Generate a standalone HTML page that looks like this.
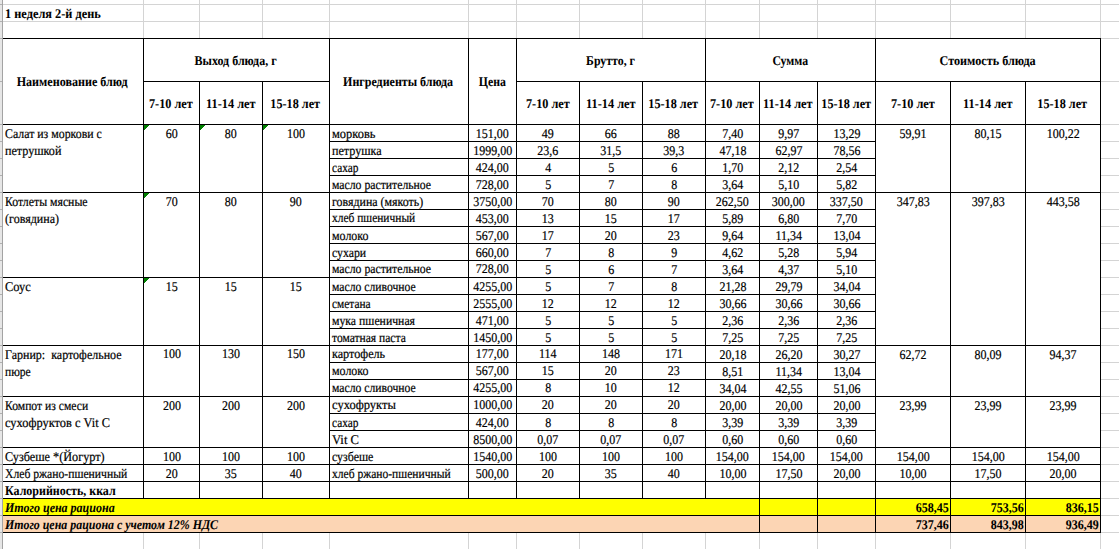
<!DOCTYPE html>
<html><head><meta charset="utf-8"><title>sheet</title><style>
html,body{margin:0;padding:0;background:#fff}
body{width:1119px;height:549px;position:relative;overflow:hidden;font-family:"Liberation Serif",serif;font-size:13.33px;line-height:17px;text-rendering:geometricPrecision;-webkit-text-stroke:0.2px #000;color:#000}
.r{position:absolute}
.t{position:absolute;box-sizing:border-box;white-space:nowrap;overflow:hidden}
.s{display:inline-block;white-space:pre}
.ol{transform-origin:0 50%}
.or{transform-origin:100% 50%}
.oc{transform-origin:50% 50%}
.l{text-align:left;padding-left:1.6px}
.c{text-align:center}
.rt{text-align:right;padding-right:1.7px}
.b,.bi,.h{-webkit-text-stroke:0.06px #000}
.b{font-weight:bold}
.bi{font-weight:bold;font-style:italic}
.h{font-weight:bold;text-align:center;display:flex;align-items:center;justify-content:center;padding-right:1px}
</style></head><body>
<div class="r" style="left:143px;top:0px;width:1px;height:549px;background:#d4d4d4"></div>
<div class="r" style="left:199px;top:0px;width:1px;height:549px;background:#d4d4d4"></div>
<div class="r" style="left:262px;top:0px;width:1px;height:549px;background:#d4d4d4"></div>
<div class="r" style="left:329px;top:0px;width:1px;height:549px;background:#d4d4d4"></div>
<div class="r" style="left:468px;top:0px;width:1px;height:549px;background:#d4d4d4"></div>
<div class="r" style="left:516px;top:0px;width:1px;height:549px;background:#d4d4d4"></div>
<div class="r" style="left:579px;top:0px;width:1px;height:549px;background:#d4d4d4"></div>
<div class="r" style="left:642px;top:0px;width:1px;height:549px;background:#d4d4d4"></div>
<div class="r" style="left:705px;top:0px;width:1px;height:549px;background:#d4d4d4"></div>
<div class="r" style="left:759px;top:0px;width:1px;height:549px;background:#d4d4d4"></div>
<div class="r" style="left:817px;top:0px;width:1px;height:549px;background:#d4d4d4"></div>
<div class="r" style="left:875px;top:0px;width:1px;height:549px;background:#d4d4d4"></div>
<div class="r" style="left:950px;top:0px;width:1px;height:549px;background:#d4d4d4"></div>
<div class="r" style="left:1025px;top:0px;width:1px;height:549px;background:#d4d4d4"></div>
<div class="r" style="left:1100px;top:0px;width:1px;height:549px;background:#d4d4d4"></div>
<div class="r" style="left:0px;top:4px;width:1119px;height:1px;background:#d4d4d4"></div>
<div class="r" style="left:0px;top:21px;width:1119px;height:1px;background:#d4d4d4"></div>
<div class="r" style="left:0px;top:38px;width:1119px;height:1px;background:#d4d4d4"></div>
<div class="r" style="left:0px;top:81px;width:1119px;height:1px;background:#d4d4d4"></div>
<div class="r" style="left:0px;top:124px;width:1119px;height:1px;background:#d4d4d4"></div>
<div class="r" style="left:0px;top:141px;width:1119px;height:1px;background:#d4d4d4"></div>
<div class="r" style="left:0px;top:158px;width:1119px;height:1px;background:#d4d4d4"></div>
<div class="r" style="left:0px;top:175px;width:1119px;height:1px;background:#d4d4d4"></div>
<div class="r" style="left:0px;top:192px;width:1119px;height:1px;background:#d4d4d4"></div>
<div class="r" style="left:0px;top:209px;width:1119px;height:1px;background:#d4d4d4"></div>
<div class="r" style="left:0px;top:226px;width:1119px;height:1px;background:#d4d4d4"></div>
<div class="r" style="left:0px;top:243px;width:1119px;height:1px;background:#d4d4d4"></div>
<div class="r" style="left:0px;top:260px;width:1119px;height:1px;background:#d4d4d4"></div>
<div class="r" style="left:0px;top:277px;width:1119px;height:1px;background:#d4d4d4"></div>
<div class="r" style="left:0px;top:294px;width:1119px;height:1px;background:#d4d4d4"></div>
<div class="r" style="left:0px;top:311px;width:1119px;height:1px;background:#d4d4d4"></div>
<div class="r" style="left:0px;top:328px;width:1119px;height:1px;background:#d4d4d4"></div>
<div class="r" style="left:0px;top:345px;width:1119px;height:1px;background:#d4d4d4"></div>
<div class="r" style="left:0px;top:362px;width:1119px;height:1px;background:#d4d4d4"></div>
<div class="r" style="left:0px;top:379px;width:1119px;height:1px;background:#d4d4d4"></div>
<div class="r" style="left:0px;top:396px;width:1119px;height:1px;background:#d4d4d4"></div>
<div class="r" style="left:0px;top:413px;width:1119px;height:1px;background:#d4d4d4"></div>
<div class="r" style="left:0px;top:430px;width:1119px;height:1px;background:#d4d4d4"></div>
<div class="r" style="left:0px;top:447px;width:1119px;height:1px;background:#d4d4d4"></div>
<div class="r" style="left:0px;top:464px;width:1119px;height:1px;background:#d4d4d4"></div>
<div class="r" style="left:0px;top:481px;width:1119px;height:1px;background:#d4d4d4"></div>
<div class="r" style="left:0px;top:498px;width:1119px;height:1px;background:#d4d4d4"></div>
<div class="r" style="left:0px;top:515px;width:1119px;height:1px;background:#d4d4d4"></div>
<div class="r" style="left:0px;top:532px;width:1119px;height:1px;background:#d4d4d4"></div>
<div class="r" style="left:0px;top:0px;width:2px;height:549px;background:#e6e6e6"></div>
<div class="r" style="left:0px;top:4px;width:2px;height:1px;background:#b0b0b0"></div>
<div class="r" style="left:0px;top:21px;width:2px;height:1px;background:#b0b0b0"></div>
<div class="r" style="left:0px;top:38px;width:2px;height:1px;background:#b0b0b0"></div>
<div class="r" style="left:0px;top:81px;width:2px;height:1px;background:#b0b0b0"></div>
<div class="r" style="left:0px;top:124px;width:2px;height:1px;background:#b0b0b0"></div>
<div class="r" style="left:0px;top:141px;width:2px;height:1px;background:#b0b0b0"></div>
<div class="r" style="left:0px;top:158px;width:2px;height:1px;background:#b0b0b0"></div>
<div class="r" style="left:0px;top:175px;width:2px;height:1px;background:#b0b0b0"></div>
<div class="r" style="left:0px;top:192px;width:2px;height:1px;background:#b0b0b0"></div>
<div class="r" style="left:0px;top:209px;width:2px;height:1px;background:#b0b0b0"></div>
<div class="r" style="left:0px;top:226px;width:2px;height:1px;background:#b0b0b0"></div>
<div class="r" style="left:0px;top:243px;width:2px;height:1px;background:#b0b0b0"></div>
<div class="r" style="left:0px;top:260px;width:2px;height:1px;background:#b0b0b0"></div>
<div class="r" style="left:0px;top:277px;width:2px;height:1px;background:#b0b0b0"></div>
<div class="r" style="left:0px;top:294px;width:2px;height:1px;background:#b0b0b0"></div>
<div class="r" style="left:0px;top:311px;width:2px;height:1px;background:#b0b0b0"></div>
<div class="r" style="left:0px;top:328px;width:2px;height:1px;background:#b0b0b0"></div>
<div class="r" style="left:0px;top:345px;width:2px;height:1px;background:#b0b0b0"></div>
<div class="r" style="left:0px;top:362px;width:2px;height:1px;background:#b0b0b0"></div>
<div class="r" style="left:0px;top:379px;width:2px;height:1px;background:#b0b0b0"></div>
<div class="r" style="left:0px;top:396px;width:2px;height:1px;background:#b0b0b0"></div>
<div class="r" style="left:0px;top:413px;width:2px;height:1px;background:#b0b0b0"></div>
<div class="r" style="left:0px;top:430px;width:2px;height:1px;background:#b0b0b0"></div>
<div class="r" style="left:0px;top:447px;width:2px;height:1px;background:#b0b0b0"></div>
<div class="r" style="left:0px;top:464px;width:2px;height:1px;background:#b0b0b0"></div>
<div class="r" style="left:0px;top:481px;width:2px;height:1px;background:#b0b0b0"></div>
<div class="r" style="left:0px;top:498px;width:2px;height:1px;background:#b0b0b0"></div>
<div class="r" style="left:0px;top:515px;width:2px;height:1px;background:#b0b0b0"></div>
<div class="r" style="left:0px;top:532px;width:2px;height:1px;background:#b0b0b0"></div>
<div class="r" style="left:2px;top:0px;width:1px;height:549px;background:#a3a3a3"></div>
<div class="r" style="left:3px;top:39px;width:140px;height:85px;background:#fff"></div>
<div class="r" style="left:144px;top:39px;width:185px;height:42px;background:#fff"></div>
<div class="r" style="left:144px;top:82px;width:55px;height:42px;background:#fff"></div>
<div class="r" style="left:200px;top:82px;width:62px;height:42px;background:#fff"></div>
<div class="r" style="left:263px;top:82px;width:66px;height:42px;background:#fff"></div>
<div class="r" style="left:330px;top:39px;width:138px;height:85px;background:#fff"></div>
<div class="r" style="left:469px;top:39px;width:47px;height:85px;background:#fff"></div>
<div class="r" style="left:517px;top:39px;width:188px;height:42px;background:#fff"></div>
<div class="r" style="left:517px;top:82px;width:62px;height:42px;background:#fff"></div>
<div class="r" style="left:580px;top:82px;width:62px;height:42px;background:#fff"></div>
<div class="r" style="left:643px;top:82px;width:62px;height:42px;background:#fff"></div>
<div class="r" style="left:706px;top:39px;width:169px;height:42px;background:#fff"></div>
<div class="r" style="left:706px;top:82px;width:53px;height:42px;background:#fff"></div>
<div class="r" style="left:760px;top:82px;width:57px;height:42px;background:#fff"></div>
<div class="r" style="left:818px;top:82px;width:57px;height:42px;background:#fff"></div>
<div class="r" style="left:876px;top:39px;width:224px;height:42px;background:#fff"></div>
<div class="r" style="left:876px;top:82px;width:74px;height:42px;background:#fff"></div>
<div class="r" style="left:951px;top:82px;width:74px;height:42px;background:#fff"></div>
<div class="r" style="left:1026px;top:82px;width:74px;height:42px;background:#fff"></div>
<div class="r" style="left:3px;top:125px;width:140px;height:67px;background:#fff"></div>
<div class="r" style="left:144px;top:125px;width:55px;height:67px;background:#fff"></div>
<div class="r" style="left:200px;top:125px;width:62px;height:67px;background:#fff"></div>
<div class="r" style="left:263px;top:125px;width:66px;height:67px;background:#fff"></div>
<div class="r" style="left:330px;top:125px;width:138px;height:16px;background:#fff"></div>
<div class="r" style="left:469px;top:125px;width:47px;height:16px;background:#fff"></div>
<div class="r" style="left:517px;top:125px;width:62px;height:16px;background:#fff"></div>
<div class="r" style="left:580px;top:125px;width:62px;height:16px;background:#fff"></div>
<div class="r" style="left:643px;top:125px;width:62px;height:16px;background:#fff"></div>
<div class="r" style="left:706px;top:125px;width:53px;height:16px;background:#fff"></div>
<div class="r" style="left:760px;top:125px;width:57px;height:16px;background:#fff"></div>
<div class="r" style="left:818px;top:125px;width:57px;height:16px;background:#fff"></div>
<div class="r" style="left:330px;top:142px;width:138px;height:16px;background:#fff"></div>
<div class="r" style="left:469px;top:142px;width:47px;height:16px;background:#fff"></div>
<div class="r" style="left:517px;top:142px;width:62px;height:16px;background:#fff"></div>
<div class="r" style="left:580px;top:142px;width:62px;height:16px;background:#fff"></div>
<div class="r" style="left:643px;top:142px;width:62px;height:16px;background:#fff"></div>
<div class="r" style="left:706px;top:142px;width:53px;height:16px;background:#fff"></div>
<div class="r" style="left:760px;top:142px;width:57px;height:16px;background:#fff"></div>
<div class="r" style="left:818px;top:142px;width:57px;height:16px;background:#fff"></div>
<div class="r" style="left:330px;top:159px;width:138px;height:16px;background:#fff"></div>
<div class="r" style="left:469px;top:159px;width:47px;height:16px;background:#fff"></div>
<div class="r" style="left:517px;top:159px;width:62px;height:16px;background:#fff"></div>
<div class="r" style="left:580px;top:159px;width:62px;height:16px;background:#fff"></div>
<div class="r" style="left:643px;top:159px;width:62px;height:16px;background:#fff"></div>
<div class="r" style="left:706px;top:159px;width:53px;height:16px;background:#fff"></div>
<div class="r" style="left:760px;top:159px;width:57px;height:16px;background:#fff"></div>
<div class="r" style="left:818px;top:159px;width:57px;height:16px;background:#fff"></div>
<div class="r" style="left:330px;top:176px;width:138px;height:16px;background:#fff"></div>
<div class="r" style="left:469px;top:176px;width:47px;height:16px;background:#fff"></div>
<div class="r" style="left:517px;top:176px;width:62px;height:16px;background:#fff"></div>
<div class="r" style="left:580px;top:176px;width:62px;height:16px;background:#fff"></div>
<div class="r" style="left:643px;top:176px;width:62px;height:16px;background:#fff"></div>
<div class="r" style="left:706px;top:176px;width:53px;height:16px;background:#fff"></div>
<div class="r" style="left:760px;top:176px;width:57px;height:16px;background:#fff"></div>
<div class="r" style="left:818px;top:176px;width:57px;height:16px;background:#fff"></div>
<div class="r" style="left:3px;top:193px;width:140px;height:84px;background:#fff"></div>
<div class="r" style="left:144px;top:193px;width:55px;height:84px;background:#fff"></div>
<div class="r" style="left:200px;top:193px;width:62px;height:84px;background:#fff"></div>
<div class="r" style="left:263px;top:193px;width:66px;height:84px;background:#fff"></div>
<div class="r" style="left:330px;top:193px;width:138px;height:16px;background:#fff"></div>
<div class="r" style="left:469px;top:193px;width:47px;height:16px;background:#fff"></div>
<div class="r" style="left:517px;top:193px;width:62px;height:16px;background:#fff"></div>
<div class="r" style="left:580px;top:193px;width:62px;height:16px;background:#fff"></div>
<div class="r" style="left:643px;top:193px;width:62px;height:16px;background:#fff"></div>
<div class="r" style="left:706px;top:193px;width:53px;height:16px;background:#fff"></div>
<div class="r" style="left:760px;top:193px;width:57px;height:16px;background:#fff"></div>
<div class="r" style="left:818px;top:193px;width:57px;height:16px;background:#fff"></div>
<div class="r" style="left:330px;top:210px;width:138px;height:16px;background:#fff"></div>
<div class="r" style="left:469px;top:210px;width:47px;height:16px;background:#fff"></div>
<div class="r" style="left:517px;top:210px;width:62px;height:16px;background:#fff"></div>
<div class="r" style="left:580px;top:210px;width:62px;height:16px;background:#fff"></div>
<div class="r" style="left:643px;top:210px;width:62px;height:16px;background:#fff"></div>
<div class="r" style="left:706px;top:210px;width:53px;height:16px;background:#fff"></div>
<div class="r" style="left:760px;top:210px;width:57px;height:16px;background:#fff"></div>
<div class="r" style="left:818px;top:210px;width:57px;height:16px;background:#fff"></div>
<div class="r" style="left:330px;top:227px;width:138px;height:16px;background:#fff"></div>
<div class="r" style="left:469px;top:227px;width:47px;height:16px;background:#fff"></div>
<div class="r" style="left:517px;top:227px;width:62px;height:16px;background:#fff"></div>
<div class="r" style="left:580px;top:227px;width:62px;height:16px;background:#fff"></div>
<div class="r" style="left:643px;top:227px;width:62px;height:16px;background:#fff"></div>
<div class="r" style="left:706px;top:227px;width:53px;height:16px;background:#fff"></div>
<div class="r" style="left:760px;top:227px;width:57px;height:16px;background:#fff"></div>
<div class="r" style="left:818px;top:227px;width:57px;height:16px;background:#fff"></div>
<div class="r" style="left:330px;top:244px;width:138px;height:16px;background:#fff"></div>
<div class="r" style="left:469px;top:244px;width:47px;height:16px;background:#fff"></div>
<div class="r" style="left:517px;top:244px;width:62px;height:16px;background:#fff"></div>
<div class="r" style="left:580px;top:244px;width:62px;height:16px;background:#fff"></div>
<div class="r" style="left:643px;top:244px;width:62px;height:16px;background:#fff"></div>
<div class="r" style="left:706px;top:244px;width:53px;height:16px;background:#fff"></div>
<div class="r" style="left:760px;top:244px;width:57px;height:16px;background:#fff"></div>
<div class="r" style="left:818px;top:244px;width:57px;height:16px;background:#fff"></div>
<div class="r" style="left:330px;top:261px;width:138px;height:16px;background:#fff"></div>
<div class="r" style="left:469px;top:261px;width:47px;height:16px;background:#fff"></div>
<div class="r" style="left:517px;top:261px;width:62px;height:16px;background:#fff"></div>
<div class="r" style="left:580px;top:261px;width:62px;height:16px;background:#fff"></div>
<div class="r" style="left:643px;top:261px;width:62px;height:16px;background:#fff"></div>
<div class="r" style="left:706px;top:261px;width:53px;height:16px;background:#fff"></div>
<div class="r" style="left:760px;top:261px;width:57px;height:16px;background:#fff"></div>
<div class="r" style="left:818px;top:261px;width:57px;height:16px;background:#fff"></div>
<div class="r" style="left:3px;top:278px;width:140px;height:67px;background:#fff"></div>
<div class="r" style="left:144px;top:278px;width:55px;height:67px;background:#fff"></div>
<div class="r" style="left:200px;top:278px;width:62px;height:67px;background:#fff"></div>
<div class="r" style="left:263px;top:278px;width:66px;height:67px;background:#fff"></div>
<div class="r" style="left:330px;top:278px;width:138px;height:16px;background:#fff"></div>
<div class="r" style="left:469px;top:278px;width:47px;height:16px;background:#fff"></div>
<div class="r" style="left:517px;top:278px;width:62px;height:16px;background:#fff"></div>
<div class="r" style="left:580px;top:278px;width:62px;height:16px;background:#fff"></div>
<div class="r" style="left:643px;top:278px;width:62px;height:16px;background:#fff"></div>
<div class="r" style="left:706px;top:278px;width:53px;height:16px;background:#fff"></div>
<div class="r" style="left:760px;top:278px;width:57px;height:16px;background:#fff"></div>
<div class="r" style="left:818px;top:278px;width:57px;height:16px;background:#fff"></div>
<div class="r" style="left:330px;top:295px;width:138px;height:16px;background:#fff"></div>
<div class="r" style="left:469px;top:295px;width:47px;height:16px;background:#fff"></div>
<div class="r" style="left:517px;top:295px;width:62px;height:16px;background:#fff"></div>
<div class="r" style="left:580px;top:295px;width:62px;height:16px;background:#fff"></div>
<div class="r" style="left:643px;top:295px;width:62px;height:16px;background:#fff"></div>
<div class="r" style="left:706px;top:295px;width:53px;height:16px;background:#fff"></div>
<div class="r" style="left:760px;top:295px;width:57px;height:16px;background:#fff"></div>
<div class="r" style="left:818px;top:295px;width:57px;height:16px;background:#fff"></div>
<div class="r" style="left:330px;top:312px;width:138px;height:16px;background:#fff"></div>
<div class="r" style="left:469px;top:312px;width:47px;height:16px;background:#fff"></div>
<div class="r" style="left:517px;top:312px;width:62px;height:16px;background:#fff"></div>
<div class="r" style="left:580px;top:312px;width:62px;height:16px;background:#fff"></div>
<div class="r" style="left:643px;top:312px;width:62px;height:16px;background:#fff"></div>
<div class="r" style="left:706px;top:312px;width:53px;height:16px;background:#fff"></div>
<div class="r" style="left:760px;top:312px;width:57px;height:16px;background:#fff"></div>
<div class="r" style="left:818px;top:312px;width:57px;height:16px;background:#fff"></div>
<div class="r" style="left:330px;top:329px;width:138px;height:16px;background:#fff"></div>
<div class="r" style="left:469px;top:329px;width:47px;height:16px;background:#fff"></div>
<div class="r" style="left:517px;top:329px;width:62px;height:16px;background:#fff"></div>
<div class="r" style="left:580px;top:329px;width:62px;height:16px;background:#fff"></div>
<div class="r" style="left:643px;top:329px;width:62px;height:16px;background:#fff"></div>
<div class="r" style="left:706px;top:329px;width:53px;height:16px;background:#fff"></div>
<div class="r" style="left:760px;top:329px;width:57px;height:16px;background:#fff"></div>
<div class="r" style="left:818px;top:329px;width:57px;height:16px;background:#fff"></div>
<div class="r" style="left:3px;top:346px;width:140px;height:50px;background:#fff"></div>
<div class="r" style="left:144px;top:346px;width:55px;height:50px;background:#fff"></div>
<div class="r" style="left:200px;top:346px;width:62px;height:50px;background:#fff"></div>
<div class="r" style="left:263px;top:346px;width:66px;height:50px;background:#fff"></div>
<div class="r" style="left:330px;top:346px;width:138px;height:16px;background:#fff"></div>
<div class="r" style="left:469px;top:346px;width:47px;height:16px;background:#fff"></div>
<div class="r" style="left:517px;top:346px;width:62px;height:16px;background:#fff"></div>
<div class="r" style="left:580px;top:346px;width:62px;height:16px;background:#fff"></div>
<div class="r" style="left:643px;top:346px;width:62px;height:16px;background:#fff"></div>
<div class="r" style="left:706px;top:346px;width:53px;height:16px;background:#fff"></div>
<div class="r" style="left:760px;top:346px;width:57px;height:16px;background:#fff"></div>
<div class="r" style="left:818px;top:346px;width:57px;height:16px;background:#fff"></div>
<div class="r" style="left:330px;top:363px;width:138px;height:16px;background:#fff"></div>
<div class="r" style="left:469px;top:363px;width:47px;height:16px;background:#fff"></div>
<div class="r" style="left:517px;top:363px;width:62px;height:16px;background:#fff"></div>
<div class="r" style="left:580px;top:363px;width:62px;height:16px;background:#fff"></div>
<div class="r" style="left:643px;top:363px;width:62px;height:16px;background:#fff"></div>
<div class="r" style="left:706px;top:363px;width:53px;height:16px;background:#fff"></div>
<div class="r" style="left:760px;top:363px;width:57px;height:16px;background:#fff"></div>
<div class="r" style="left:818px;top:363px;width:57px;height:16px;background:#fff"></div>
<div class="r" style="left:330px;top:380px;width:138px;height:16px;background:#fff"></div>
<div class="r" style="left:469px;top:380px;width:47px;height:16px;background:#fff"></div>
<div class="r" style="left:517px;top:380px;width:62px;height:16px;background:#fff"></div>
<div class="r" style="left:580px;top:380px;width:62px;height:16px;background:#fff"></div>
<div class="r" style="left:643px;top:380px;width:62px;height:16px;background:#fff"></div>
<div class="r" style="left:706px;top:380px;width:53px;height:16px;background:#fff"></div>
<div class="r" style="left:760px;top:380px;width:57px;height:16px;background:#fff"></div>
<div class="r" style="left:818px;top:380px;width:57px;height:16px;background:#fff"></div>
<div class="r" style="left:3px;top:397px;width:140px;height:50px;background:#fff"></div>
<div class="r" style="left:144px;top:397px;width:55px;height:50px;background:#fff"></div>
<div class="r" style="left:200px;top:397px;width:62px;height:50px;background:#fff"></div>
<div class="r" style="left:263px;top:397px;width:66px;height:50px;background:#fff"></div>
<div class="r" style="left:330px;top:397px;width:138px;height:16px;background:#fff"></div>
<div class="r" style="left:469px;top:397px;width:47px;height:16px;background:#fff"></div>
<div class="r" style="left:517px;top:397px;width:62px;height:16px;background:#fff"></div>
<div class="r" style="left:580px;top:397px;width:62px;height:16px;background:#fff"></div>
<div class="r" style="left:643px;top:397px;width:62px;height:16px;background:#fff"></div>
<div class="r" style="left:706px;top:397px;width:53px;height:16px;background:#fff"></div>
<div class="r" style="left:760px;top:397px;width:57px;height:16px;background:#fff"></div>
<div class="r" style="left:818px;top:397px;width:57px;height:16px;background:#fff"></div>
<div class="r" style="left:330px;top:414px;width:138px;height:16px;background:#fff"></div>
<div class="r" style="left:469px;top:414px;width:47px;height:16px;background:#fff"></div>
<div class="r" style="left:517px;top:414px;width:62px;height:16px;background:#fff"></div>
<div class="r" style="left:580px;top:414px;width:62px;height:16px;background:#fff"></div>
<div class="r" style="left:643px;top:414px;width:62px;height:16px;background:#fff"></div>
<div class="r" style="left:706px;top:414px;width:53px;height:16px;background:#fff"></div>
<div class="r" style="left:760px;top:414px;width:57px;height:16px;background:#fff"></div>
<div class="r" style="left:818px;top:414px;width:57px;height:16px;background:#fff"></div>
<div class="r" style="left:330px;top:431px;width:138px;height:16px;background:#fff"></div>
<div class="r" style="left:469px;top:431px;width:47px;height:16px;background:#fff"></div>
<div class="r" style="left:517px;top:431px;width:62px;height:16px;background:#fff"></div>
<div class="r" style="left:580px;top:431px;width:62px;height:16px;background:#fff"></div>
<div class="r" style="left:643px;top:431px;width:62px;height:16px;background:#fff"></div>
<div class="r" style="left:706px;top:431px;width:53px;height:16px;background:#fff"></div>
<div class="r" style="left:760px;top:431px;width:57px;height:16px;background:#fff"></div>
<div class="r" style="left:818px;top:431px;width:57px;height:16px;background:#fff"></div>
<div class="r" style="left:3px;top:448px;width:140px;height:16px;background:#fff"></div>
<div class="r" style="left:144px;top:448px;width:55px;height:16px;background:#fff"></div>
<div class="r" style="left:200px;top:448px;width:62px;height:16px;background:#fff"></div>
<div class="r" style="left:263px;top:448px;width:66px;height:16px;background:#fff"></div>
<div class="r" style="left:330px;top:448px;width:138px;height:16px;background:#fff"></div>
<div class="r" style="left:469px;top:448px;width:47px;height:16px;background:#fff"></div>
<div class="r" style="left:517px;top:448px;width:62px;height:16px;background:#fff"></div>
<div class="r" style="left:580px;top:448px;width:62px;height:16px;background:#fff"></div>
<div class="r" style="left:643px;top:448px;width:62px;height:16px;background:#fff"></div>
<div class="r" style="left:706px;top:448px;width:53px;height:16px;background:#fff"></div>
<div class="r" style="left:760px;top:448px;width:57px;height:16px;background:#fff"></div>
<div class="r" style="left:818px;top:448px;width:57px;height:16px;background:#fff"></div>
<div class="r" style="left:3px;top:465px;width:140px;height:16px;background:#fff"></div>
<div class="r" style="left:144px;top:465px;width:55px;height:16px;background:#fff"></div>
<div class="r" style="left:200px;top:465px;width:62px;height:16px;background:#fff"></div>
<div class="r" style="left:263px;top:465px;width:66px;height:16px;background:#fff"></div>
<div class="r" style="left:330px;top:465px;width:138px;height:16px;background:#fff"></div>
<div class="r" style="left:469px;top:465px;width:47px;height:16px;background:#fff"></div>
<div class="r" style="left:517px;top:465px;width:62px;height:16px;background:#fff"></div>
<div class="r" style="left:580px;top:465px;width:62px;height:16px;background:#fff"></div>
<div class="r" style="left:643px;top:465px;width:62px;height:16px;background:#fff"></div>
<div class="r" style="left:706px;top:465px;width:53px;height:16px;background:#fff"></div>
<div class="r" style="left:760px;top:465px;width:57px;height:16px;background:#fff"></div>
<div class="r" style="left:818px;top:465px;width:57px;height:16px;background:#fff"></div>
<div class="r" style="left:876px;top:125px;width:74px;height:67px;background:#fff"></div>
<div class="r" style="left:951px;top:125px;width:74px;height:67px;background:#fff"></div>
<div class="r" style="left:1026px;top:125px;width:74px;height:67px;background:#fff"></div>
<div class="r" style="left:876px;top:193px;width:74px;height:152px;background:#fff"></div>
<div class="r" style="left:951px;top:193px;width:74px;height:152px;background:#fff"></div>
<div class="r" style="left:1026px;top:193px;width:74px;height:152px;background:#fff"></div>
<div class="r" style="left:876px;top:346px;width:74px;height:50px;background:#fff"></div>
<div class="r" style="left:951px;top:346px;width:74px;height:50px;background:#fff"></div>
<div class="r" style="left:1026px;top:346px;width:74px;height:50px;background:#fff"></div>
<div class="r" style="left:876px;top:397px;width:74px;height:50px;background:#fff"></div>
<div class="r" style="left:951px;top:397px;width:74px;height:50px;background:#fff"></div>
<div class="r" style="left:1026px;top:397px;width:74px;height:50px;background:#fff"></div>
<div class="r" style="left:876px;top:448px;width:74px;height:16px;background:#fff"></div>
<div class="r" style="left:951px;top:448px;width:74px;height:16px;background:#fff"></div>
<div class="r" style="left:1026px;top:448px;width:74px;height:16px;background:#fff"></div>
<div class="r" style="left:876px;top:465px;width:74px;height:16px;background:#fff"></div>
<div class="r" style="left:951px;top:465px;width:74px;height:16px;background:#fff"></div>
<div class="r" style="left:1026px;top:465px;width:74px;height:16px;background:#fff"></div>
<div class="r" style="left:3px;top:482px;width:140px;height:16px;background:#fff"></div>
<div class="r" style="left:144px;top:482px;width:55px;height:16px;background:#fff"></div>
<div class="r" style="left:200px;top:482px;width:62px;height:16px;background:#fff"></div>
<div class="r" style="left:263px;top:482px;width:66px;height:16px;background:#fff"></div>
<div class="r" style="left:330px;top:482px;width:138px;height:16px;background:#fff"></div>
<div class="r" style="left:469px;top:482px;width:47px;height:16px;background:#fff"></div>
<div class="r" style="left:517px;top:482px;width:62px;height:16px;background:#fff"></div>
<div class="r" style="left:580px;top:482px;width:62px;height:16px;background:#fff"></div>
<div class="r" style="left:643px;top:482px;width:62px;height:16px;background:#fff"></div>
<div class="r" style="left:706px;top:482px;width:53px;height:16px;background:#fff"></div>
<div class="r" style="left:760px;top:482px;width:57px;height:16px;background:#fff"></div>
<div class="r" style="left:818px;top:482px;width:57px;height:16px;background:#fff"></div>
<div class="r" style="left:876px;top:482px;width:74px;height:16px;background:#fff"></div>
<div class="r" style="left:951px;top:482px;width:74px;height:16px;background:#fff"></div>
<div class="r" style="left:1026px;top:482px;width:74px;height:16px;background:#fff"></div>
<div class="r" style="left:3px;top:499px;width:756px;height:16px;background:#ffff00"></div>
<div class="r" style="left:760px;top:499px;width:57px;height:16px;background:#ffff00"></div>
<div class="r" style="left:818px;top:499px;width:57px;height:16px;background:#ffff00"></div>
<div class="r" style="left:876px;top:499px;width:74px;height:16px;background:#ffff00"></div>
<div class="r" style="left:951px;top:499px;width:74px;height:16px;background:#ffff00"></div>
<div class="r" style="left:1026px;top:499px;width:74px;height:16px;background:#ffff00"></div>
<div class="r" style="left:3px;top:516px;width:756px;height:16px;background:#fcd5b4"></div>
<div class="r" style="left:760px;top:516px;width:57px;height:16px;background:#fcd5b4"></div>
<div class="r" style="left:818px;top:516px;width:57px;height:16px;background:#fcd5b4"></div>
<div class="r" style="left:876px;top:516px;width:74px;height:16px;background:#fcd5b4"></div>
<div class="r" style="left:951px;top:516px;width:74px;height:16px;background:#fcd5b4"></div>
<div class="r" style="left:1026px;top:516px;width:74px;height:16px;background:#fcd5b4"></div>
<div class="r" style="left:3px;top:38px;width:141px;height:1px;background:#000"></div>
<div class="r" style="left:3px;top:124px;width:141px;height:1px;background:#000"></div>
<div class="r" style="left:143px;top:38px;width:1px;height:87px;background:#000"></div>
<div class="r" style="left:143px;top:38px;width:187px;height:1px;background:#000"></div>
<div class="r" style="left:143px;top:81px;width:187px;height:1px;background:#000"></div>
<div class="r" style="left:143px;top:38px;width:1px;height:44px;background:#000"></div>
<div class="r" style="left:329px;top:38px;width:1px;height:44px;background:#000"></div>
<div class="r" style="left:143px;top:81px;width:57px;height:1px;background:#000"></div>
<div class="r" style="left:143px;top:124px;width:57px;height:1px;background:#000"></div>
<div class="r" style="left:143px;top:81px;width:1px;height:44px;background:#000"></div>
<div class="r" style="left:199px;top:81px;width:1px;height:44px;background:#000"></div>
<div class="r" style="left:199px;top:81px;width:64px;height:1px;background:#000"></div>
<div class="r" style="left:199px;top:124px;width:64px;height:1px;background:#000"></div>
<div class="r" style="left:262px;top:81px;width:1px;height:44px;background:#000"></div>
<div class="r" style="left:262px;top:81px;width:68px;height:1px;background:#000"></div>
<div class="r" style="left:262px;top:124px;width:68px;height:1px;background:#000"></div>
<div class="r" style="left:329px;top:81px;width:1px;height:44px;background:#000"></div>
<div class="r" style="left:329px;top:38px;width:140px;height:1px;background:#000"></div>
<div class="r" style="left:329px;top:124px;width:140px;height:1px;background:#000"></div>
<div class="r" style="left:329px;top:38px;width:1px;height:87px;background:#000"></div>
<div class="r" style="left:468px;top:38px;width:1px;height:87px;background:#000"></div>
<div class="r" style="left:468px;top:38px;width:49px;height:1px;background:#000"></div>
<div class="r" style="left:468px;top:124px;width:49px;height:1px;background:#000"></div>
<div class="r" style="left:516px;top:38px;width:1px;height:87px;background:#000"></div>
<div class="r" style="left:516px;top:38px;width:190px;height:1px;background:#000"></div>
<div class="r" style="left:516px;top:81px;width:190px;height:1px;background:#000"></div>
<div class="r" style="left:516px;top:38px;width:1px;height:44px;background:#000"></div>
<div class="r" style="left:705px;top:38px;width:1px;height:44px;background:#000"></div>
<div class="r" style="left:516px;top:81px;width:64px;height:1px;background:#000"></div>
<div class="r" style="left:516px;top:124px;width:64px;height:1px;background:#000"></div>
<div class="r" style="left:516px;top:81px;width:1px;height:44px;background:#000"></div>
<div class="r" style="left:579px;top:81px;width:1px;height:44px;background:#000"></div>
<div class="r" style="left:579px;top:81px;width:64px;height:1px;background:#000"></div>
<div class="r" style="left:579px;top:124px;width:64px;height:1px;background:#000"></div>
<div class="r" style="left:642px;top:81px;width:1px;height:44px;background:#000"></div>
<div class="r" style="left:642px;top:81px;width:64px;height:1px;background:#000"></div>
<div class="r" style="left:642px;top:124px;width:64px;height:1px;background:#000"></div>
<div class="r" style="left:705px;top:81px;width:1px;height:44px;background:#000"></div>
<div class="r" style="left:705px;top:38px;width:171px;height:1px;background:#000"></div>
<div class="r" style="left:705px;top:81px;width:171px;height:1px;background:#000"></div>
<div class="r" style="left:875px;top:38px;width:1px;height:44px;background:#000"></div>
<div class="r" style="left:705px;top:81px;width:55px;height:1px;background:#000"></div>
<div class="r" style="left:705px;top:124px;width:55px;height:1px;background:#000"></div>
<div class="r" style="left:759px;top:81px;width:1px;height:44px;background:#000"></div>
<div class="r" style="left:759px;top:81px;width:59px;height:1px;background:#000"></div>
<div class="r" style="left:759px;top:124px;width:59px;height:1px;background:#000"></div>
<div class="r" style="left:817px;top:81px;width:1px;height:44px;background:#000"></div>
<div class="r" style="left:817px;top:81px;width:59px;height:1px;background:#000"></div>
<div class="r" style="left:817px;top:124px;width:59px;height:1px;background:#000"></div>
<div class="r" style="left:875px;top:81px;width:1px;height:44px;background:#000"></div>
<div class="r" style="left:875px;top:38px;width:226px;height:1px;background:#000"></div>
<div class="r" style="left:875px;top:81px;width:226px;height:1px;background:#000"></div>
<div class="r" style="left:1100px;top:38px;width:1px;height:44px;background:#000"></div>
<div class="r" style="left:875px;top:81px;width:76px;height:1px;background:#000"></div>
<div class="r" style="left:875px;top:124px;width:76px;height:1px;background:#000"></div>
<div class="r" style="left:950px;top:81px;width:1px;height:44px;background:#000"></div>
<div class="r" style="left:950px;top:81px;width:76px;height:1px;background:#000"></div>
<div class="r" style="left:950px;top:124px;width:76px;height:1px;background:#000"></div>
<div class="r" style="left:1025px;top:81px;width:1px;height:44px;background:#000"></div>
<div class="r" style="left:1025px;top:81px;width:76px;height:1px;background:#000"></div>
<div class="r" style="left:1025px;top:124px;width:76px;height:1px;background:#000"></div>
<div class="r" style="left:1100px;top:81px;width:1px;height:44px;background:#000"></div>
<div class="r" style="left:3px;top:192px;width:141px;height:1px;background:#000"></div>
<div class="r" style="left:143px;top:124px;width:1px;height:69px;background:#000"></div>
<div class="r" style="left:143px;top:192px;width:57px;height:1px;background:#000"></div>
<div class="r" style="left:199px;top:124px;width:1px;height:69px;background:#000"></div>
<div class="r" style="left:199px;top:192px;width:64px;height:1px;background:#000"></div>
<div class="r" style="left:262px;top:124px;width:1px;height:69px;background:#000"></div>
<div class="r" style="left:262px;top:192px;width:68px;height:1px;background:#000"></div>
<div class="r" style="left:329px;top:124px;width:1px;height:69px;background:#000"></div>
<div class="r" style="left:329px;top:141px;width:140px;height:1px;background:#000"></div>
<div class="r" style="left:329px;top:124px;width:1px;height:18px;background:#000"></div>
<div class="r" style="left:468px;top:124px;width:1px;height:18px;background:#000"></div>
<div class="r" style="left:468px;top:141px;width:49px;height:1px;background:#000"></div>
<div class="r" style="left:516px;top:124px;width:1px;height:18px;background:#000"></div>
<div class="r" style="left:516px;top:141px;width:64px;height:1px;background:#000"></div>
<div class="r" style="left:579px;top:124px;width:1px;height:18px;background:#000"></div>
<div class="r" style="left:579px;top:141px;width:64px;height:1px;background:#000"></div>
<div class="r" style="left:642px;top:124px;width:1px;height:18px;background:#000"></div>
<div class="r" style="left:642px;top:141px;width:64px;height:1px;background:#000"></div>
<div class="r" style="left:705px;top:124px;width:1px;height:18px;background:#000"></div>
<div class="r" style="left:705px;top:141px;width:55px;height:1px;background:#000"></div>
<div class="r" style="left:759px;top:124px;width:1px;height:18px;background:#000"></div>
<div class="r" style="left:759px;top:141px;width:59px;height:1px;background:#000"></div>
<div class="r" style="left:817px;top:124px;width:1px;height:18px;background:#000"></div>
<div class="r" style="left:817px;top:141px;width:59px;height:1px;background:#000"></div>
<div class="r" style="left:875px;top:124px;width:1px;height:18px;background:#000"></div>
<div class="r" style="left:329px;top:158px;width:140px;height:1px;background:#000"></div>
<div class="r" style="left:329px;top:141px;width:1px;height:18px;background:#000"></div>
<div class="r" style="left:468px;top:141px;width:1px;height:18px;background:#000"></div>
<div class="r" style="left:468px;top:158px;width:49px;height:1px;background:#000"></div>
<div class="r" style="left:516px;top:141px;width:1px;height:18px;background:#000"></div>
<div class="r" style="left:516px;top:158px;width:64px;height:1px;background:#000"></div>
<div class="r" style="left:579px;top:141px;width:1px;height:18px;background:#000"></div>
<div class="r" style="left:579px;top:158px;width:64px;height:1px;background:#000"></div>
<div class="r" style="left:642px;top:141px;width:1px;height:18px;background:#000"></div>
<div class="r" style="left:642px;top:158px;width:64px;height:1px;background:#000"></div>
<div class="r" style="left:705px;top:141px;width:1px;height:18px;background:#000"></div>
<div class="r" style="left:705px;top:158px;width:55px;height:1px;background:#000"></div>
<div class="r" style="left:759px;top:141px;width:1px;height:18px;background:#000"></div>
<div class="r" style="left:759px;top:158px;width:59px;height:1px;background:#000"></div>
<div class="r" style="left:817px;top:141px;width:1px;height:18px;background:#000"></div>
<div class="r" style="left:817px;top:158px;width:59px;height:1px;background:#000"></div>
<div class="r" style="left:875px;top:141px;width:1px;height:18px;background:#000"></div>
<div class="r" style="left:329px;top:175px;width:140px;height:1px;background:#000"></div>
<div class="r" style="left:329px;top:158px;width:1px;height:18px;background:#000"></div>
<div class="r" style="left:468px;top:158px;width:1px;height:18px;background:#000"></div>
<div class="r" style="left:468px;top:175px;width:49px;height:1px;background:#000"></div>
<div class="r" style="left:516px;top:158px;width:1px;height:18px;background:#000"></div>
<div class="r" style="left:516px;top:175px;width:64px;height:1px;background:#000"></div>
<div class="r" style="left:579px;top:158px;width:1px;height:18px;background:#000"></div>
<div class="r" style="left:579px;top:175px;width:64px;height:1px;background:#000"></div>
<div class="r" style="left:642px;top:158px;width:1px;height:18px;background:#000"></div>
<div class="r" style="left:642px;top:175px;width:64px;height:1px;background:#000"></div>
<div class="r" style="left:705px;top:158px;width:1px;height:18px;background:#000"></div>
<div class="r" style="left:705px;top:175px;width:55px;height:1px;background:#000"></div>
<div class="r" style="left:759px;top:158px;width:1px;height:18px;background:#000"></div>
<div class="r" style="left:759px;top:175px;width:59px;height:1px;background:#000"></div>
<div class="r" style="left:817px;top:158px;width:1px;height:18px;background:#000"></div>
<div class="r" style="left:817px;top:175px;width:59px;height:1px;background:#000"></div>
<div class="r" style="left:875px;top:158px;width:1px;height:18px;background:#000"></div>
<div class="r" style="left:329px;top:192px;width:140px;height:1px;background:#000"></div>
<div class="r" style="left:329px;top:175px;width:1px;height:18px;background:#000"></div>
<div class="r" style="left:468px;top:175px;width:1px;height:18px;background:#000"></div>
<div class="r" style="left:468px;top:192px;width:49px;height:1px;background:#000"></div>
<div class="r" style="left:516px;top:175px;width:1px;height:18px;background:#000"></div>
<div class="r" style="left:516px;top:192px;width:64px;height:1px;background:#000"></div>
<div class="r" style="left:579px;top:175px;width:1px;height:18px;background:#000"></div>
<div class="r" style="left:579px;top:192px;width:64px;height:1px;background:#000"></div>
<div class="r" style="left:642px;top:175px;width:1px;height:18px;background:#000"></div>
<div class="r" style="left:642px;top:192px;width:64px;height:1px;background:#000"></div>
<div class="r" style="left:705px;top:175px;width:1px;height:18px;background:#000"></div>
<div class="r" style="left:705px;top:192px;width:55px;height:1px;background:#000"></div>
<div class="r" style="left:759px;top:175px;width:1px;height:18px;background:#000"></div>
<div class="r" style="left:759px;top:192px;width:59px;height:1px;background:#000"></div>
<div class="r" style="left:817px;top:175px;width:1px;height:18px;background:#000"></div>
<div class="r" style="left:817px;top:192px;width:59px;height:1px;background:#000"></div>
<div class="r" style="left:875px;top:175px;width:1px;height:18px;background:#000"></div>
<div class="r" style="left:3px;top:277px;width:141px;height:1px;background:#000"></div>
<div class="r" style="left:143px;top:192px;width:1px;height:86px;background:#000"></div>
<div class="r" style="left:143px;top:277px;width:57px;height:1px;background:#000"></div>
<div class="r" style="left:199px;top:192px;width:1px;height:86px;background:#000"></div>
<div class="r" style="left:199px;top:277px;width:64px;height:1px;background:#000"></div>
<div class="r" style="left:262px;top:192px;width:1px;height:86px;background:#000"></div>
<div class="r" style="left:262px;top:277px;width:68px;height:1px;background:#000"></div>
<div class="r" style="left:329px;top:192px;width:1px;height:86px;background:#000"></div>
<div class="r" style="left:329px;top:209px;width:140px;height:1px;background:#000"></div>
<div class="r" style="left:329px;top:192px;width:1px;height:18px;background:#000"></div>
<div class="r" style="left:468px;top:192px;width:1px;height:18px;background:#000"></div>
<div class="r" style="left:468px;top:209px;width:49px;height:1px;background:#000"></div>
<div class="r" style="left:516px;top:192px;width:1px;height:18px;background:#000"></div>
<div class="r" style="left:516px;top:209px;width:64px;height:1px;background:#000"></div>
<div class="r" style="left:579px;top:192px;width:1px;height:18px;background:#000"></div>
<div class="r" style="left:579px;top:209px;width:64px;height:1px;background:#000"></div>
<div class="r" style="left:642px;top:192px;width:1px;height:18px;background:#000"></div>
<div class="r" style="left:642px;top:209px;width:64px;height:1px;background:#000"></div>
<div class="r" style="left:705px;top:192px;width:1px;height:18px;background:#000"></div>
<div class="r" style="left:705px;top:209px;width:55px;height:1px;background:#000"></div>
<div class="r" style="left:759px;top:192px;width:1px;height:18px;background:#000"></div>
<div class="r" style="left:759px;top:209px;width:59px;height:1px;background:#000"></div>
<div class="r" style="left:817px;top:192px;width:1px;height:18px;background:#000"></div>
<div class="r" style="left:817px;top:209px;width:59px;height:1px;background:#000"></div>
<div class="r" style="left:875px;top:192px;width:1px;height:18px;background:#000"></div>
<div class="r" style="left:329px;top:226px;width:140px;height:1px;background:#000"></div>
<div class="r" style="left:329px;top:209px;width:1px;height:18px;background:#000"></div>
<div class="r" style="left:468px;top:209px;width:1px;height:18px;background:#000"></div>
<div class="r" style="left:468px;top:226px;width:49px;height:1px;background:#000"></div>
<div class="r" style="left:516px;top:209px;width:1px;height:18px;background:#000"></div>
<div class="r" style="left:516px;top:226px;width:64px;height:1px;background:#000"></div>
<div class="r" style="left:579px;top:209px;width:1px;height:18px;background:#000"></div>
<div class="r" style="left:579px;top:226px;width:64px;height:1px;background:#000"></div>
<div class="r" style="left:642px;top:209px;width:1px;height:18px;background:#000"></div>
<div class="r" style="left:642px;top:226px;width:64px;height:1px;background:#000"></div>
<div class="r" style="left:705px;top:209px;width:1px;height:18px;background:#000"></div>
<div class="r" style="left:705px;top:226px;width:55px;height:1px;background:#000"></div>
<div class="r" style="left:759px;top:209px;width:1px;height:18px;background:#000"></div>
<div class="r" style="left:759px;top:226px;width:59px;height:1px;background:#000"></div>
<div class="r" style="left:817px;top:209px;width:1px;height:18px;background:#000"></div>
<div class="r" style="left:817px;top:226px;width:59px;height:1px;background:#000"></div>
<div class="r" style="left:875px;top:209px;width:1px;height:18px;background:#000"></div>
<div class="r" style="left:329px;top:243px;width:140px;height:1px;background:#000"></div>
<div class="r" style="left:329px;top:226px;width:1px;height:18px;background:#000"></div>
<div class="r" style="left:468px;top:226px;width:1px;height:18px;background:#000"></div>
<div class="r" style="left:468px;top:243px;width:49px;height:1px;background:#000"></div>
<div class="r" style="left:516px;top:226px;width:1px;height:18px;background:#000"></div>
<div class="r" style="left:516px;top:243px;width:64px;height:1px;background:#000"></div>
<div class="r" style="left:579px;top:226px;width:1px;height:18px;background:#000"></div>
<div class="r" style="left:579px;top:243px;width:64px;height:1px;background:#000"></div>
<div class="r" style="left:642px;top:226px;width:1px;height:18px;background:#000"></div>
<div class="r" style="left:642px;top:243px;width:64px;height:1px;background:#000"></div>
<div class="r" style="left:705px;top:226px;width:1px;height:18px;background:#000"></div>
<div class="r" style="left:705px;top:243px;width:55px;height:1px;background:#000"></div>
<div class="r" style="left:759px;top:226px;width:1px;height:18px;background:#000"></div>
<div class="r" style="left:759px;top:243px;width:59px;height:1px;background:#000"></div>
<div class="r" style="left:817px;top:226px;width:1px;height:18px;background:#000"></div>
<div class="r" style="left:817px;top:243px;width:59px;height:1px;background:#000"></div>
<div class="r" style="left:875px;top:226px;width:1px;height:18px;background:#000"></div>
<div class="r" style="left:329px;top:260px;width:140px;height:1px;background:#000"></div>
<div class="r" style="left:329px;top:243px;width:1px;height:18px;background:#000"></div>
<div class="r" style="left:468px;top:243px;width:1px;height:18px;background:#000"></div>
<div class="r" style="left:468px;top:260px;width:49px;height:1px;background:#000"></div>
<div class="r" style="left:516px;top:243px;width:1px;height:18px;background:#000"></div>
<div class="r" style="left:516px;top:260px;width:64px;height:1px;background:#000"></div>
<div class="r" style="left:579px;top:243px;width:1px;height:18px;background:#000"></div>
<div class="r" style="left:579px;top:260px;width:64px;height:1px;background:#000"></div>
<div class="r" style="left:642px;top:243px;width:1px;height:18px;background:#000"></div>
<div class="r" style="left:642px;top:260px;width:64px;height:1px;background:#000"></div>
<div class="r" style="left:705px;top:243px;width:1px;height:18px;background:#000"></div>
<div class="r" style="left:705px;top:260px;width:55px;height:1px;background:#000"></div>
<div class="r" style="left:759px;top:243px;width:1px;height:18px;background:#000"></div>
<div class="r" style="left:759px;top:260px;width:59px;height:1px;background:#000"></div>
<div class="r" style="left:817px;top:243px;width:1px;height:18px;background:#000"></div>
<div class="r" style="left:817px;top:260px;width:59px;height:1px;background:#000"></div>
<div class="r" style="left:875px;top:243px;width:1px;height:18px;background:#000"></div>
<div class="r" style="left:329px;top:277px;width:140px;height:1px;background:#000"></div>
<div class="r" style="left:329px;top:260px;width:1px;height:18px;background:#000"></div>
<div class="r" style="left:468px;top:260px;width:1px;height:18px;background:#000"></div>
<div class="r" style="left:468px;top:277px;width:49px;height:1px;background:#000"></div>
<div class="r" style="left:516px;top:260px;width:1px;height:18px;background:#000"></div>
<div class="r" style="left:516px;top:277px;width:64px;height:1px;background:#000"></div>
<div class="r" style="left:579px;top:260px;width:1px;height:18px;background:#000"></div>
<div class="r" style="left:579px;top:277px;width:64px;height:1px;background:#000"></div>
<div class="r" style="left:642px;top:260px;width:1px;height:18px;background:#000"></div>
<div class="r" style="left:642px;top:277px;width:64px;height:1px;background:#000"></div>
<div class="r" style="left:705px;top:260px;width:1px;height:18px;background:#000"></div>
<div class="r" style="left:705px;top:277px;width:55px;height:1px;background:#000"></div>
<div class="r" style="left:759px;top:260px;width:1px;height:18px;background:#000"></div>
<div class="r" style="left:759px;top:277px;width:59px;height:1px;background:#000"></div>
<div class="r" style="left:817px;top:260px;width:1px;height:18px;background:#000"></div>
<div class="r" style="left:817px;top:277px;width:59px;height:1px;background:#000"></div>
<div class="r" style="left:875px;top:260px;width:1px;height:18px;background:#000"></div>
<div class="r" style="left:3px;top:345px;width:141px;height:1px;background:#000"></div>
<div class="r" style="left:143px;top:277px;width:1px;height:69px;background:#000"></div>
<div class="r" style="left:143px;top:345px;width:57px;height:1px;background:#000"></div>
<div class="r" style="left:199px;top:277px;width:1px;height:69px;background:#000"></div>
<div class="r" style="left:199px;top:345px;width:64px;height:1px;background:#000"></div>
<div class="r" style="left:262px;top:277px;width:1px;height:69px;background:#000"></div>
<div class="r" style="left:262px;top:345px;width:68px;height:1px;background:#000"></div>
<div class="r" style="left:329px;top:277px;width:1px;height:69px;background:#000"></div>
<div class="r" style="left:329px;top:294px;width:140px;height:1px;background:#000"></div>
<div class="r" style="left:329px;top:277px;width:1px;height:18px;background:#000"></div>
<div class="r" style="left:468px;top:277px;width:1px;height:18px;background:#000"></div>
<div class="r" style="left:468px;top:294px;width:49px;height:1px;background:#000"></div>
<div class="r" style="left:516px;top:277px;width:1px;height:18px;background:#000"></div>
<div class="r" style="left:516px;top:294px;width:64px;height:1px;background:#000"></div>
<div class="r" style="left:579px;top:277px;width:1px;height:18px;background:#000"></div>
<div class="r" style="left:579px;top:294px;width:64px;height:1px;background:#000"></div>
<div class="r" style="left:642px;top:277px;width:1px;height:18px;background:#000"></div>
<div class="r" style="left:642px;top:294px;width:64px;height:1px;background:#000"></div>
<div class="r" style="left:705px;top:277px;width:1px;height:18px;background:#000"></div>
<div class="r" style="left:705px;top:294px;width:55px;height:1px;background:#000"></div>
<div class="r" style="left:759px;top:277px;width:1px;height:18px;background:#000"></div>
<div class="r" style="left:759px;top:294px;width:59px;height:1px;background:#000"></div>
<div class="r" style="left:817px;top:277px;width:1px;height:18px;background:#000"></div>
<div class="r" style="left:817px;top:294px;width:59px;height:1px;background:#000"></div>
<div class="r" style="left:875px;top:277px;width:1px;height:18px;background:#000"></div>
<div class="r" style="left:329px;top:311px;width:140px;height:1px;background:#000"></div>
<div class="r" style="left:329px;top:294px;width:1px;height:18px;background:#000"></div>
<div class="r" style="left:468px;top:294px;width:1px;height:18px;background:#000"></div>
<div class="r" style="left:468px;top:311px;width:49px;height:1px;background:#000"></div>
<div class="r" style="left:516px;top:294px;width:1px;height:18px;background:#000"></div>
<div class="r" style="left:516px;top:311px;width:64px;height:1px;background:#000"></div>
<div class="r" style="left:579px;top:294px;width:1px;height:18px;background:#000"></div>
<div class="r" style="left:579px;top:311px;width:64px;height:1px;background:#000"></div>
<div class="r" style="left:642px;top:294px;width:1px;height:18px;background:#000"></div>
<div class="r" style="left:642px;top:311px;width:64px;height:1px;background:#000"></div>
<div class="r" style="left:705px;top:294px;width:1px;height:18px;background:#000"></div>
<div class="r" style="left:705px;top:311px;width:55px;height:1px;background:#000"></div>
<div class="r" style="left:759px;top:294px;width:1px;height:18px;background:#000"></div>
<div class="r" style="left:759px;top:311px;width:59px;height:1px;background:#000"></div>
<div class="r" style="left:817px;top:294px;width:1px;height:18px;background:#000"></div>
<div class="r" style="left:817px;top:311px;width:59px;height:1px;background:#000"></div>
<div class="r" style="left:875px;top:294px;width:1px;height:18px;background:#000"></div>
<div class="r" style="left:329px;top:328px;width:140px;height:1px;background:#000"></div>
<div class="r" style="left:329px;top:311px;width:1px;height:18px;background:#000"></div>
<div class="r" style="left:468px;top:311px;width:1px;height:18px;background:#000"></div>
<div class="r" style="left:468px;top:328px;width:49px;height:1px;background:#000"></div>
<div class="r" style="left:516px;top:311px;width:1px;height:18px;background:#000"></div>
<div class="r" style="left:516px;top:328px;width:64px;height:1px;background:#000"></div>
<div class="r" style="left:579px;top:311px;width:1px;height:18px;background:#000"></div>
<div class="r" style="left:579px;top:328px;width:64px;height:1px;background:#000"></div>
<div class="r" style="left:642px;top:311px;width:1px;height:18px;background:#000"></div>
<div class="r" style="left:642px;top:328px;width:64px;height:1px;background:#000"></div>
<div class="r" style="left:705px;top:311px;width:1px;height:18px;background:#000"></div>
<div class="r" style="left:705px;top:328px;width:55px;height:1px;background:#000"></div>
<div class="r" style="left:759px;top:311px;width:1px;height:18px;background:#000"></div>
<div class="r" style="left:759px;top:328px;width:59px;height:1px;background:#000"></div>
<div class="r" style="left:817px;top:311px;width:1px;height:18px;background:#000"></div>
<div class="r" style="left:817px;top:328px;width:59px;height:1px;background:#000"></div>
<div class="r" style="left:875px;top:311px;width:1px;height:18px;background:#000"></div>
<div class="r" style="left:329px;top:345px;width:140px;height:1px;background:#000"></div>
<div class="r" style="left:329px;top:328px;width:1px;height:18px;background:#000"></div>
<div class="r" style="left:468px;top:328px;width:1px;height:18px;background:#000"></div>
<div class="r" style="left:468px;top:345px;width:49px;height:1px;background:#000"></div>
<div class="r" style="left:516px;top:328px;width:1px;height:18px;background:#000"></div>
<div class="r" style="left:516px;top:345px;width:64px;height:1px;background:#000"></div>
<div class="r" style="left:579px;top:328px;width:1px;height:18px;background:#000"></div>
<div class="r" style="left:579px;top:345px;width:64px;height:1px;background:#000"></div>
<div class="r" style="left:642px;top:328px;width:1px;height:18px;background:#000"></div>
<div class="r" style="left:642px;top:345px;width:64px;height:1px;background:#000"></div>
<div class="r" style="left:705px;top:328px;width:1px;height:18px;background:#000"></div>
<div class="r" style="left:705px;top:345px;width:55px;height:1px;background:#000"></div>
<div class="r" style="left:759px;top:328px;width:1px;height:18px;background:#000"></div>
<div class="r" style="left:759px;top:345px;width:59px;height:1px;background:#000"></div>
<div class="r" style="left:817px;top:328px;width:1px;height:18px;background:#000"></div>
<div class="r" style="left:817px;top:345px;width:59px;height:1px;background:#000"></div>
<div class="r" style="left:875px;top:328px;width:1px;height:18px;background:#000"></div>
<div class="r" style="left:3px;top:396px;width:141px;height:1px;background:#000"></div>
<div class="r" style="left:143px;top:345px;width:1px;height:52px;background:#000"></div>
<div class="r" style="left:143px;top:396px;width:57px;height:1px;background:#000"></div>
<div class="r" style="left:199px;top:345px;width:1px;height:52px;background:#000"></div>
<div class="r" style="left:199px;top:396px;width:64px;height:1px;background:#000"></div>
<div class="r" style="left:262px;top:345px;width:1px;height:52px;background:#000"></div>
<div class="r" style="left:262px;top:396px;width:68px;height:1px;background:#000"></div>
<div class="r" style="left:329px;top:345px;width:1px;height:52px;background:#000"></div>
<div class="r" style="left:329px;top:362px;width:140px;height:1px;background:#000"></div>
<div class="r" style="left:329px;top:345px;width:1px;height:18px;background:#000"></div>
<div class="r" style="left:468px;top:345px;width:1px;height:18px;background:#000"></div>
<div class="r" style="left:468px;top:362px;width:49px;height:1px;background:#000"></div>
<div class="r" style="left:516px;top:345px;width:1px;height:18px;background:#000"></div>
<div class="r" style="left:516px;top:362px;width:64px;height:1px;background:#000"></div>
<div class="r" style="left:579px;top:345px;width:1px;height:18px;background:#000"></div>
<div class="r" style="left:579px;top:362px;width:64px;height:1px;background:#000"></div>
<div class="r" style="left:642px;top:345px;width:1px;height:18px;background:#000"></div>
<div class="r" style="left:642px;top:362px;width:64px;height:1px;background:#000"></div>
<div class="r" style="left:705px;top:345px;width:1px;height:18px;background:#000"></div>
<div class="r" style="left:705px;top:362px;width:55px;height:1px;background:#000"></div>
<div class="r" style="left:759px;top:345px;width:1px;height:18px;background:#000"></div>
<div class="r" style="left:759px;top:362px;width:59px;height:1px;background:#000"></div>
<div class="r" style="left:817px;top:345px;width:1px;height:18px;background:#000"></div>
<div class="r" style="left:817px;top:362px;width:59px;height:1px;background:#000"></div>
<div class="r" style="left:875px;top:345px;width:1px;height:18px;background:#000"></div>
<div class="r" style="left:329px;top:379px;width:140px;height:1px;background:#000"></div>
<div class="r" style="left:329px;top:362px;width:1px;height:18px;background:#000"></div>
<div class="r" style="left:468px;top:362px;width:1px;height:18px;background:#000"></div>
<div class="r" style="left:468px;top:379px;width:49px;height:1px;background:#000"></div>
<div class="r" style="left:516px;top:362px;width:1px;height:18px;background:#000"></div>
<div class="r" style="left:516px;top:379px;width:64px;height:1px;background:#000"></div>
<div class="r" style="left:579px;top:362px;width:1px;height:18px;background:#000"></div>
<div class="r" style="left:579px;top:379px;width:64px;height:1px;background:#000"></div>
<div class="r" style="left:642px;top:362px;width:1px;height:18px;background:#000"></div>
<div class="r" style="left:642px;top:379px;width:64px;height:1px;background:#000"></div>
<div class="r" style="left:705px;top:362px;width:1px;height:18px;background:#000"></div>
<div class="r" style="left:705px;top:379px;width:55px;height:1px;background:#000"></div>
<div class="r" style="left:759px;top:362px;width:1px;height:18px;background:#000"></div>
<div class="r" style="left:759px;top:379px;width:59px;height:1px;background:#000"></div>
<div class="r" style="left:817px;top:362px;width:1px;height:18px;background:#000"></div>
<div class="r" style="left:817px;top:379px;width:59px;height:1px;background:#000"></div>
<div class="r" style="left:875px;top:362px;width:1px;height:18px;background:#000"></div>
<div class="r" style="left:329px;top:396px;width:140px;height:1px;background:#000"></div>
<div class="r" style="left:329px;top:379px;width:1px;height:18px;background:#000"></div>
<div class="r" style="left:468px;top:379px;width:1px;height:18px;background:#000"></div>
<div class="r" style="left:468px;top:396px;width:49px;height:1px;background:#000"></div>
<div class="r" style="left:516px;top:379px;width:1px;height:18px;background:#000"></div>
<div class="r" style="left:516px;top:396px;width:64px;height:1px;background:#000"></div>
<div class="r" style="left:579px;top:379px;width:1px;height:18px;background:#000"></div>
<div class="r" style="left:579px;top:396px;width:64px;height:1px;background:#000"></div>
<div class="r" style="left:642px;top:379px;width:1px;height:18px;background:#000"></div>
<div class="r" style="left:642px;top:396px;width:64px;height:1px;background:#000"></div>
<div class="r" style="left:705px;top:379px;width:1px;height:18px;background:#000"></div>
<div class="r" style="left:705px;top:396px;width:55px;height:1px;background:#000"></div>
<div class="r" style="left:759px;top:379px;width:1px;height:18px;background:#000"></div>
<div class="r" style="left:759px;top:396px;width:59px;height:1px;background:#000"></div>
<div class="r" style="left:817px;top:379px;width:1px;height:18px;background:#000"></div>
<div class="r" style="left:817px;top:396px;width:59px;height:1px;background:#000"></div>
<div class="r" style="left:875px;top:379px;width:1px;height:18px;background:#000"></div>
<div class="r" style="left:3px;top:447px;width:141px;height:1px;background:#000"></div>
<div class="r" style="left:143px;top:396px;width:1px;height:52px;background:#000"></div>
<div class="r" style="left:143px;top:447px;width:57px;height:1px;background:#000"></div>
<div class="r" style="left:199px;top:396px;width:1px;height:52px;background:#000"></div>
<div class="r" style="left:199px;top:447px;width:64px;height:1px;background:#000"></div>
<div class="r" style="left:262px;top:396px;width:1px;height:52px;background:#000"></div>
<div class="r" style="left:262px;top:447px;width:68px;height:1px;background:#000"></div>
<div class="r" style="left:329px;top:396px;width:1px;height:52px;background:#000"></div>
<div class="r" style="left:329px;top:413px;width:140px;height:1px;background:#000"></div>
<div class="r" style="left:329px;top:396px;width:1px;height:18px;background:#000"></div>
<div class="r" style="left:468px;top:396px;width:1px;height:18px;background:#000"></div>
<div class="r" style="left:468px;top:413px;width:49px;height:1px;background:#000"></div>
<div class="r" style="left:516px;top:396px;width:1px;height:18px;background:#000"></div>
<div class="r" style="left:516px;top:413px;width:64px;height:1px;background:#000"></div>
<div class="r" style="left:579px;top:396px;width:1px;height:18px;background:#000"></div>
<div class="r" style="left:579px;top:413px;width:64px;height:1px;background:#000"></div>
<div class="r" style="left:642px;top:396px;width:1px;height:18px;background:#000"></div>
<div class="r" style="left:642px;top:413px;width:64px;height:1px;background:#000"></div>
<div class="r" style="left:705px;top:396px;width:1px;height:18px;background:#000"></div>
<div class="r" style="left:705px;top:413px;width:55px;height:1px;background:#000"></div>
<div class="r" style="left:759px;top:396px;width:1px;height:18px;background:#000"></div>
<div class="r" style="left:759px;top:413px;width:59px;height:1px;background:#000"></div>
<div class="r" style="left:817px;top:396px;width:1px;height:18px;background:#000"></div>
<div class="r" style="left:817px;top:413px;width:59px;height:1px;background:#000"></div>
<div class="r" style="left:875px;top:396px;width:1px;height:18px;background:#000"></div>
<div class="r" style="left:329px;top:430px;width:140px;height:1px;background:#000"></div>
<div class="r" style="left:329px;top:413px;width:1px;height:18px;background:#000"></div>
<div class="r" style="left:468px;top:413px;width:1px;height:18px;background:#000"></div>
<div class="r" style="left:468px;top:430px;width:49px;height:1px;background:#000"></div>
<div class="r" style="left:516px;top:413px;width:1px;height:18px;background:#000"></div>
<div class="r" style="left:516px;top:430px;width:64px;height:1px;background:#000"></div>
<div class="r" style="left:579px;top:413px;width:1px;height:18px;background:#000"></div>
<div class="r" style="left:579px;top:430px;width:64px;height:1px;background:#000"></div>
<div class="r" style="left:642px;top:413px;width:1px;height:18px;background:#000"></div>
<div class="r" style="left:642px;top:430px;width:64px;height:1px;background:#000"></div>
<div class="r" style="left:705px;top:413px;width:1px;height:18px;background:#000"></div>
<div class="r" style="left:705px;top:430px;width:55px;height:1px;background:#000"></div>
<div class="r" style="left:759px;top:413px;width:1px;height:18px;background:#000"></div>
<div class="r" style="left:759px;top:430px;width:59px;height:1px;background:#000"></div>
<div class="r" style="left:817px;top:413px;width:1px;height:18px;background:#000"></div>
<div class="r" style="left:817px;top:430px;width:59px;height:1px;background:#000"></div>
<div class="r" style="left:875px;top:413px;width:1px;height:18px;background:#000"></div>
<div class="r" style="left:329px;top:447px;width:140px;height:1px;background:#000"></div>
<div class="r" style="left:329px;top:430px;width:1px;height:18px;background:#000"></div>
<div class="r" style="left:468px;top:430px;width:1px;height:18px;background:#000"></div>
<div class="r" style="left:468px;top:447px;width:49px;height:1px;background:#000"></div>
<div class="r" style="left:516px;top:430px;width:1px;height:18px;background:#000"></div>
<div class="r" style="left:516px;top:447px;width:64px;height:1px;background:#000"></div>
<div class="r" style="left:579px;top:430px;width:1px;height:18px;background:#000"></div>
<div class="r" style="left:579px;top:447px;width:64px;height:1px;background:#000"></div>
<div class="r" style="left:642px;top:430px;width:1px;height:18px;background:#000"></div>
<div class="r" style="left:642px;top:447px;width:64px;height:1px;background:#000"></div>
<div class="r" style="left:705px;top:430px;width:1px;height:18px;background:#000"></div>
<div class="r" style="left:705px;top:447px;width:55px;height:1px;background:#000"></div>
<div class="r" style="left:759px;top:430px;width:1px;height:18px;background:#000"></div>
<div class="r" style="left:759px;top:447px;width:59px;height:1px;background:#000"></div>
<div class="r" style="left:817px;top:430px;width:1px;height:18px;background:#000"></div>
<div class="r" style="left:817px;top:447px;width:59px;height:1px;background:#000"></div>
<div class="r" style="left:875px;top:430px;width:1px;height:18px;background:#000"></div>
<div class="r" style="left:3px;top:464px;width:141px;height:1px;background:#000"></div>
<div class="r" style="left:143px;top:447px;width:1px;height:18px;background:#000"></div>
<div class="r" style="left:143px;top:464px;width:57px;height:1px;background:#000"></div>
<div class="r" style="left:199px;top:447px;width:1px;height:18px;background:#000"></div>
<div class="r" style="left:199px;top:464px;width:64px;height:1px;background:#000"></div>
<div class="r" style="left:262px;top:447px;width:1px;height:18px;background:#000"></div>
<div class="r" style="left:262px;top:464px;width:68px;height:1px;background:#000"></div>
<div class="r" style="left:329px;top:447px;width:1px;height:18px;background:#000"></div>
<div class="r" style="left:329px;top:464px;width:140px;height:1px;background:#000"></div>
<div class="r" style="left:468px;top:447px;width:1px;height:18px;background:#000"></div>
<div class="r" style="left:468px;top:464px;width:49px;height:1px;background:#000"></div>
<div class="r" style="left:516px;top:447px;width:1px;height:18px;background:#000"></div>
<div class="r" style="left:516px;top:464px;width:64px;height:1px;background:#000"></div>
<div class="r" style="left:579px;top:447px;width:1px;height:18px;background:#000"></div>
<div class="r" style="left:579px;top:464px;width:64px;height:1px;background:#000"></div>
<div class="r" style="left:642px;top:447px;width:1px;height:18px;background:#000"></div>
<div class="r" style="left:642px;top:464px;width:64px;height:1px;background:#000"></div>
<div class="r" style="left:705px;top:447px;width:1px;height:18px;background:#000"></div>
<div class="r" style="left:705px;top:464px;width:55px;height:1px;background:#000"></div>
<div class="r" style="left:759px;top:447px;width:1px;height:18px;background:#000"></div>
<div class="r" style="left:759px;top:464px;width:59px;height:1px;background:#000"></div>
<div class="r" style="left:817px;top:447px;width:1px;height:18px;background:#000"></div>
<div class="r" style="left:817px;top:464px;width:59px;height:1px;background:#000"></div>
<div class="r" style="left:875px;top:447px;width:1px;height:18px;background:#000"></div>
<div class="r" style="left:3px;top:481px;width:141px;height:1px;background:#000"></div>
<div class="r" style="left:143px;top:464px;width:1px;height:18px;background:#000"></div>
<div class="r" style="left:143px;top:481px;width:57px;height:1px;background:#000"></div>
<div class="r" style="left:199px;top:464px;width:1px;height:18px;background:#000"></div>
<div class="r" style="left:199px;top:481px;width:64px;height:1px;background:#000"></div>
<div class="r" style="left:262px;top:464px;width:1px;height:18px;background:#000"></div>
<div class="r" style="left:262px;top:481px;width:68px;height:1px;background:#000"></div>
<div class="r" style="left:329px;top:464px;width:1px;height:18px;background:#000"></div>
<div class="r" style="left:329px;top:481px;width:140px;height:1px;background:#000"></div>
<div class="r" style="left:468px;top:464px;width:1px;height:18px;background:#000"></div>
<div class="r" style="left:468px;top:481px;width:49px;height:1px;background:#000"></div>
<div class="r" style="left:516px;top:464px;width:1px;height:18px;background:#000"></div>
<div class="r" style="left:516px;top:481px;width:64px;height:1px;background:#000"></div>
<div class="r" style="left:579px;top:464px;width:1px;height:18px;background:#000"></div>
<div class="r" style="left:579px;top:481px;width:64px;height:1px;background:#000"></div>
<div class="r" style="left:642px;top:464px;width:1px;height:18px;background:#000"></div>
<div class="r" style="left:642px;top:481px;width:64px;height:1px;background:#000"></div>
<div class="r" style="left:705px;top:464px;width:1px;height:18px;background:#000"></div>
<div class="r" style="left:705px;top:481px;width:55px;height:1px;background:#000"></div>
<div class="r" style="left:759px;top:464px;width:1px;height:18px;background:#000"></div>
<div class="r" style="left:759px;top:481px;width:59px;height:1px;background:#000"></div>
<div class="r" style="left:817px;top:464px;width:1px;height:18px;background:#000"></div>
<div class="r" style="left:817px;top:481px;width:59px;height:1px;background:#000"></div>
<div class="r" style="left:875px;top:464px;width:1px;height:18px;background:#000"></div>
<div class="r" style="left:875px;top:192px;width:76px;height:1px;background:#000"></div>
<div class="r" style="left:875px;top:124px;width:1px;height:69px;background:#000"></div>
<div class="r" style="left:950px;top:124px;width:1px;height:69px;background:#000"></div>
<div class="r" style="left:950px;top:192px;width:76px;height:1px;background:#000"></div>
<div class="r" style="left:1025px;top:124px;width:1px;height:69px;background:#000"></div>
<div class="r" style="left:1025px;top:192px;width:76px;height:1px;background:#000"></div>
<div class="r" style="left:1100px;top:124px;width:1px;height:69px;background:#000"></div>
<div class="r" style="left:875px;top:345px;width:76px;height:1px;background:#000"></div>
<div class="r" style="left:875px;top:192px;width:1px;height:154px;background:#000"></div>
<div class="r" style="left:950px;top:192px;width:1px;height:154px;background:#000"></div>
<div class="r" style="left:950px;top:345px;width:76px;height:1px;background:#000"></div>
<div class="r" style="left:1025px;top:192px;width:1px;height:154px;background:#000"></div>
<div class="r" style="left:1025px;top:345px;width:76px;height:1px;background:#000"></div>
<div class="r" style="left:1100px;top:192px;width:1px;height:154px;background:#000"></div>
<div class="r" style="left:875px;top:396px;width:76px;height:1px;background:#000"></div>
<div class="r" style="left:875px;top:345px;width:1px;height:52px;background:#000"></div>
<div class="r" style="left:950px;top:345px;width:1px;height:52px;background:#000"></div>
<div class="r" style="left:950px;top:396px;width:76px;height:1px;background:#000"></div>
<div class="r" style="left:1025px;top:345px;width:1px;height:52px;background:#000"></div>
<div class="r" style="left:1025px;top:396px;width:76px;height:1px;background:#000"></div>
<div class="r" style="left:1100px;top:345px;width:1px;height:52px;background:#000"></div>
<div class="r" style="left:875px;top:447px;width:76px;height:1px;background:#000"></div>
<div class="r" style="left:875px;top:396px;width:1px;height:52px;background:#000"></div>
<div class="r" style="left:950px;top:396px;width:1px;height:52px;background:#000"></div>
<div class="r" style="left:950px;top:447px;width:76px;height:1px;background:#000"></div>
<div class="r" style="left:1025px;top:396px;width:1px;height:52px;background:#000"></div>
<div class="r" style="left:1025px;top:447px;width:76px;height:1px;background:#000"></div>
<div class="r" style="left:1100px;top:396px;width:1px;height:52px;background:#000"></div>
<div class="r" style="left:875px;top:464px;width:76px;height:1px;background:#000"></div>
<div class="r" style="left:950px;top:447px;width:1px;height:18px;background:#000"></div>
<div class="r" style="left:950px;top:464px;width:76px;height:1px;background:#000"></div>
<div class="r" style="left:1025px;top:447px;width:1px;height:18px;background:#000"></div>
<div class="r" style="left:1025px;top:464px;width:76px;height:1px;background:#000"></div>
<div class="r" style="left:1100px;top:447px;width:1px;height:18px;background:#000"></div>
<div class="r" style="left:875px;top:481px;width:76px;height:1px;background:#000"></div>
<div class="r" style="left:950px;top:464px;width:1px;height:18px;background:#000"></div>
<div class="r" style="left:950px;top:481px;width:76px;height:1px;background:#000"></div>
<div class="r" style="left:1025px;top:464px;width:1px;height:18px;background:#000"></div>
<div class="r" style="left:1025px;top:481px;width:76px;height:1px;background:#000"></div>
<div class="r" style="left:1100px;top:464px;width:1px;height:18px;background:#000"></div>
<div class="r" style="left:3px;top:498px;width:141px;height:1px;background:#000"></div>
<div class="r" style="left:143px;top:481px;width:1px;height:18px;background:#000"></div>
<div class="r" style="left:143px;top:498px;width:57px;height:1px;background:#000"></div>
<div class="r" style="left:199px;top:481px;width:1px;height:18px;background:#000"></div>
<div class="r" style="left:199px;top:498px;width:64px;height:1px;background:#000"></div>
<div class="r" style="left:262px;top:481px;width:1px;height:18px;background:#000"></div>
<div class="r" style="left:262px;top:498px;width:68px;height:1px;background:#000"></div>
<div class="r" style="left:329px;top:481px;width:1px;height:18px;background:#000"></div>
<div class="r" style="left:329px;top:498px;width:140px;height:1px;background:#000"></div>
<div class="r" style="left:468px;top:481px;width:1px;height:18px;background:#000"></div>
<div class="r" style="left:468px;top:498px;width:49px;height:1px;background:#000"></div>
<div class="r" style="left:516px;top:481px;width:1px;height:18px;background:#000"></div>
<div class="r" style="left:516px;top:498px;width:64px;height:1px;background:#000"></div>
<div class="r" style="left:579px;top:481px;width:1px;height:18px;background:#000"></div>
<div class="r" style="left:579px;top:498px;width:64px;height:1px;background:#000"></div>
<div class="r" style="left:642px;top:481px;width:1px;height:18px;background:#000"></div>
<div class="r" style="left:642px;top:498px;width:64px;height:1px;background:#000"></div>
<div class="r" style="left:705px;top:481px;width:1px;height:18px;background:#000"></div>
<div class="r" style="left:705px;top:498px;width:55px;height:1px;background:#000"></div>
<div class="r" style="left:759px;top:481px;width:1px;height:18px;background:#000"></div>
<div class="r" style="left:759px;top:498px;width:59px;height:1px;background:#000"></div>
<div class="r" style="left:817px;top:481px;width:1px;height:18px;background:#000"></div>
<div class="r" style="left:817px;top:498px;width:59px;height:1px;background:#000"></div>
<div class="r" style="left:875px;top:481px;width:1px;height:18px;background:#000"></div>
<div class="r" style="left:875px;top:498px;width:76px;height:1px;background:#000"></div>
<div class="r" style="left:950px;top:481px;width:1px;height:18px;background:#000"></div>
<div class="r" style="left:950px;top:498px;width:76px;height:1px;background:#000"></div>
<div class="r" style="left:1025px;top:481px;width:1px;height:18px;background:#000"></div>
<div class="r" style="left:1025px;top:498px;width:76px;height:1px;background:#000"></div>
<div class="r" style="left:1100px;top:481px;width:1px;height:18px;background:#000"></div>
<div class="r" style="left:3px;top:498px;width:757px;height:1px;background:#000"></div>
<div class="r" style="left:3px;top:515px;width:757px;height:1px;background:#000"></div>
<div class="r" style="left:759px;top:498px;width:1px;height:18px;background:#000"></div>
<div class="r" style="left:759px;top:515px;width:59px;height:1px;background:#000"></div>
<div class="r" style="left:817px;top:498px;width:1px;height:18px;background:#000"></div>
<div class="r" style="left:817px;top:515px;width:59px;height:1px;background:#000"></div>
<div class="r" style="left:875px;top:498px;width:1px;height:18px;background:#000"></div>
<div class="r" style="left:875px;top:515px;width:76px;height:1px;background:#000"></div>
<div class="r" style="left:950px;top:498px;width:1px;height:18px;background:#000"></div>
<div class="r" style="left:950px;top:515px;width:76px;height:1px;background:#000"></div>
<div class="r" style="left:1025px;top:498px;width:1px;height:18px;background:#000"></div>
<div class="r" style="left:1025px;top:515px;width:76px;height:1px;background:#000"></div>
<div class="r" style="left:1100px;top:498px;width:1px;height:18px;background:#000"></div>
<div class="r" style="left:3px;top:532px;width:757px;height:1px;background:#000"></div>
<div class="r" style="left:759px;top:515px;width:1px;height:18px;background:#000"></div>
<div class="r" style="left:759px;top:532px;width:59px;height:1px;background:#000"></div>
<div class="r" style="left:817px;top:515px;width:1px;height:18px;background:#000"></div>
<div class="r" style="left:817px;top:532px;width:59px;height:1px;background:#000"></div>
<div class="r" style="left:875px;top:515px;width:1px;height:18px;background:#000"></div>
<div class="r" style="left:875px;top:532px;width:76px;height:1px;background:#000"></div>
<div class="r" style="left:950px;top:515px;width:1px;height:18px;background:#000"></div>
<div class="r" style="left:950px;top:532px;width:76px;height:1px;background:#000"></div>
<div class="r" style="left:1025px;top:515px;width:1px;height:18px;background:#000"></div>
<div class="r" style="left:1025px;top:532px;width:76px;height:1px;background:#000"></div>
<div class="r" style="left:1100px;top:515px;width:1px;height:18px;background:#000"></div>
<svg class="r" style="left:144px;top:125px" width="5" height="5" shape-rendering="crispEdges"><path d="M0,0h5v1h-1v1h-1v1h-1v1h-1v1h-1z" fill="#008000"/></svg>
<svg class="r" style="left:200px;top:125px" width="5" height="5" shape-rendering="crispEdges"><path d="M0,0h5v1h-1v1h-1v1h-1v1h-1v1h-1z" fill="#008000"/></svg>
<svg class="r" style="left:263px;top:125px" width="5" height="5" shape-rendering="crispEdges"><path d="M0,0h5v1h-1v1h-1v1h-1v1h-1v1h-1z" fill="#008000"/></svg>
<svg class="r" style="left:144px;top:193px" width="5" height="5" shape-rendering="crispEdges"><path d="M0,0h5v1h-1v1h-1v1h-1v1h-1v1h-1z" fill="#008000"/></svg>
<svg class="r" style="left:144px;top:278px" width="5" height="5" shape-rendering="crispEdges"><path d="M0,0h5v1h-1v1h-1v1h-1v1h-1v1h-1z" fill="#008000"/></svg>
<div class="t h" style="left:3px;top:39px;width:140px;height:85px"><div><span class="s oc" style="transform:scaleX(0.9079)">Наименование блюд</span></div></div>
<div class="t h" style="left:144px;top:39px;width:185px;height:42px"><div><span class="s oc" style="transform:scaleX(0.8996)">Выход блюда, г</span></div></div>
<div class="t h" style="left:144px;top:82px;width:55px;height:42px"><div><span class="s oc" style="transform:scaleX(0.9185)">7-10 лет</span></div></div>
<div class="t h" style="left:200px;top:82px;width:62px;height:42px"><div><span class="s oc" style="transform:scaleX(0.9212)">11-14 лет</span></div></div>
<div class="t h" style="left:263px;top:82px;width:66px;height:42px"><div><span class="s oc" style="transform:scaleX(0.9134)">15-18 лет</span></div></div>
<div class="t h" style="left:330px;top:39px;width:138px;height:85px"><div><span class="s oc" style="transform:scaleX(0.9006)">Ингредиенты блюда</span></div></div>
<div class="t h" style="left:469px;top:39px;width:47px;height:85px"><div><span class="s oc" style="transform:scaleX(0.8832)">Цена</span></div></div>
<div class="t h" style="left:517px;top:39px;width:188px;height:42px"><div><span class="s oc" style="transform:scaleX(0.8892)">Брутто, г</span></div></div>
<div class="t h" style="left:517px;top:82px;width:62px;height:42px"><div><span class="s oc" style="transform:scaleX(0.9185)">7-10 лет</span></div></div>
<div class="t h" style="left:580px;top:82px;width:62px;height:42px"><div><span class="s oc" style="transform:scaleX(0.9212)">11-14 лет</span></div></div>
<div class="t h" style="left:643px;top:82px;width:62px;height:42px"><div><span class="s oc" style="transform:scaleX(0.9134)">15-18 лет</span></div></div>
<div class="t h" style="left:706px;top:39px;width:169px;height:42px"><div><span class="s oc" style="transform:scaleX(0.8815)">Сумма</span></div></div>
<div class="t h" style="left:706px;top:82px;width:53px;height:42px"><div><span class="s oc" style="transform:scaleX(0.9185)">7-10 лет</span></div></div>
<div class="t h" style="left:760px;top:82px;width:57px;height:42px"><div><span class="s oc" style="transform:scaleX(0.9212)">11-14 лет</span></div></div>
<div class="t h" style="left:818px;top:82px;width:57px;height:42px"><div><span class="s oc" style="transform:scaleX(0.9134)">15-18 лет</span></div></div>
<div class="t h" style="left:876px;top:39px;width:224px;height:42px"><div><span class="s oc" style="transform:scaleX(0.9137)">Стоимость блюда</span></div></div>
<div class="t h" style="left:876px;top:82px;width:74px;height:42px"><div><span class="s oc" style="transform:scaleX(0.9185)">7-10 лет</span></div></div>
<div class="t h" style="left:951px;top:82px;width:74px;height:42px"><div><span class="s oc" style="transform:scaleX(0.9212)">11-14 лет</span></div></div>
<div class="t h" style="left:1026px;top:82px;width:74px;height:42px"><div><span class="s oc" style="transform:scaleX(0.9134)">15-18 лет</span></div></div>
<div class="t l" style="left:3px;top:125px;width:140px;height:67px"><div><span class="s ol" style="transform:scaleX(0.8889)">Салат из моркови с</span><br><span class="s ol" style="transform:scaleX(0.9092)">петрушкой</span></div></div>
<div class="t c" style="left:144px;top:125px;width:55px;height:67px"><div><span class="s oc" style="transform:scaleX(0.9002)">60</span></div></div>
<div class="t c" style="left:200px;top:125px;width:62px;height:67px"><div><span class="s oc" style="transform:scaleX(0.9002)">80</span></div></div>
<div class="t c" style="left:263px;top:125px;width:66px;height:67px"><div><span class="s oc" style="transform:scaleX(0.9002)">100</span></div></div>
<div class="t l i" style="left:330px;top:125px;width:138px;height:16px"><div><span class="s ol" style="transform:scaleX(0.9319)">морковь</span></div></div>
<div class="t c" style="left:469px;top:125px;width:47px;height:16px"><div><span class="s oc" style="transform:scaleX(0.9002)">151,00</span></div></div>
<div class="t c" style="left:517px;top:125px;width:62px;height:16px"><div><span class="s oc" style="transform:scaleX(0.9002)">49</span></div></div>
<div class="t c" style="left:580px;top:125px;width:62px;height:16px"><div><span class="s oc" style="transform:scaleX(0.9002)">66</span></div></div>
<div class="t c" style="left:643px;top:125px;width:62px;height:16px"><div><span class="s oc" style="transform:scaleX(0.9002)">88</span></div></div>
<div class="t c" style="left:706px;top:125px;width:53px;height:16px"><div><span class="s oc" style="transform:scaleX(0.9002)">7,40</span></div></div>
<div class="t c" style="left:760px;top:125px;width:57px;height:16px"><div><span class="s oc" style="transform:scaleX(0.9002)">9,97</span></div></div>
<div class="t c" style="left:818px;top:125px;width:57px;height:16px"><div><span class="s oc" style="transform:scaleX(0.9002)">13,29</span></div></div>
<div class="t l i" style="left:330px;top:142px;width:138px;height:16px"><div><span class="s ol" style="transform:scaleX(0.9079)">петрушка</span></div></div>
<div class="t c" style="left:469px;top:142px;width:47px;height:16px"><div><span class="s oc" style="transform:scaleX(0.9002)">1999,00</span></div></div>
<div class="t c" style="left:517px;top:142px;width:62px;height:16px"><div><span class="s oc" style="transform:scaleX(0.9002)">23,6</span></div></div>
<div class="t c" style="left:580px;top:142px;width:62px;height:16px"><div><span class="s oc" style="transform:scaleX(0.9002)">31,5</span></div></div>
<div class="t c" style="left:643px;top:142px;width:62px;height:16px"><div><span class="s oc" style="transform:scaleX(0.9002)">39,3</span></div></div>
<div class="t c" style="left:706px;top:142px;width:53px;height:16px"><div><span class="s oc" style="transform:scaleX(0.9002)">47,18</span></div></div>
<div class="t c" style="left:760px;top:142px;width:57px;height:16px"><div><span class="s oc" style="transform:scaleX(0.9002)">62,97</span></div></div>
<div class="t c" style="left:818px;top:142px;width:57px;height:16px"><div><span class="s oc" style="transform:scaleX(0.9002)">78,56</span></div></div>
<div class="t l i" style="left:330px;top:159px;width:138px;height:16px"><div><span class="s ol" style="transform:scaleX(0.8505)">сахар</span></div></div>
<div class="t c" style="left:469px;top:159px;width:47px;height:16px"><div><span class="s oc" style="transform:scaleX(0.9002)">424,00</span></div></div>
<div class="t c" style="left:517px;top:159px;width:62px;height:16px"><div><span class="s oc" style="transform:scaleX(0.9002)">4</span></div></div>
<div class="t c" style="left:580px;top:159px;width:62px;height:16px"><div><span class="s oc" style="transform:scaleX(0.9002)">5</span></div></div>
<div class="t c" style="left:643px;top:159px;width:62px;height:16px"><div><span class="s oc" style="transform:scaleX(0.9002)">6</span></div></div>
<div class="t c" style="left:706px;top:159px;width:53px;height:16px"><div><span class="s oc" style="transform:scaleX(0.9002)">1,70</span></div></div>
<div class="t c" style="left:760px;top:159px;width:57px;height:16px"><div><span class="s oc" style="transform:scaleX(0.9002)">2,12</span></div></div>
<div class="t c" style="left:818px;top:159px;width:57px;height:16px"><div><span class="s oc" style="transform:scaleX(0.9002)">2,54</span></div></div>
<div class="t l i" style="left:330px;top:176px;width:138px;height:16px"><div><span class="s ol" style="transform:scaleX(0.8796)">масло растительное</span></div></div>
<div class="t c" style="left:469px;top:176px;width:47px;height:16px"><div><span class="s oc" style="transform:scaleX(0.9002)">728,00</span></div></div>
<div class="t c" style="left:517px;top:176px;width:62px;height:16px"><div><span class="s oc" style="transform:scaleX(0.9002)">5</span></div></div>
<div class="t c" style="left:580px;top:176px;width:62px;height:16px"><div><span class="s oc" style="transform:scaleX(0.9002)">7</span></div></div>
<div class="t c" style="left:643px;top:176px;width:62px;height:16px"><div><span class="s oc" style="transform:scaleX(0.9002)">8</span></div></div>
<div class="t c" style="left:706px;top:176px;width:53px;height:16px"><div><span class="s oc" style="transform:scaleX(0.9002)">3,64</span></div></div>
<div class="t c" style="left:760px;top:176px;width:57px;height:16px"><div><span class="s oc" style="transform:scaleX(0.9002)">5,10</span></div></div>
<div class="t c" style="left:818px;top:176px;width:57px;height:16px"><div><span class="s oc" style="transform:scaleX(0.9002)">5,82</span></div></div>
<div class="t l" style="left:3px;top:193px;width:140px;height:84px"><div><span class="s ol" style="transform:scaleX(0.8843)">Котлеты мясные</span><br><span class="s ol" style="transform:scaleX(0.9014)">(говядина)</span></div></div>
<div class="t c" style="left:144px;top:193px;width:55px;height:84px"><div><span class="s oc" style="transform:scaleX(0.9002)">70</span></div></div>
<div class="t c" style="left:200px;top:193px;width:62px;height:84px"><div><span class="s oc" style="transform:scaleX(0.9002)">80</span></div></div>
<div class="t c" style="left:263px;top:193px;width:66px;height:84px"><div><span class="s oc" style="transform:scaleX(0.9002)">90</span></div></div>
<div class="t l i" style="left:330px;top:193px;width:138px;height:16px"><div><span class="s ol" style="transform:scaleX(0.8944)">говядина (мякоть)</span></div></div>
<div class="t c" style="left:469px;top:193px;width:47px;height:16px"><div><span class="s oc" style="transform:scaleX(0.9002)">3750,00</span></div></div>
<div class="t c" style="left:517px;top:193px;width:62px;height:16px"><div><span class="s oc" style="transform:scaleX(0.9002)">70</span></div></div>
<div class="t c" style="left:580px;top:193px;width:62px;height:16px"><div><span class="s oc" style="transform:scaleX(0.9002)">80</span></div></div>
<div class="t c" style="left:643px;top:193px;width:62px;height:16px"><div><span class="s oc" style="transform:scaleX(0.9002)">90</span></div></div>
<div class="t c" style="left:706px;top:193px;width:53px;height:16px"><div><span class="s oc" style="transform:scaleX(0.9002)">262,50</span></div></div>
<div class="t c" style="left:760px;top:193px;width:57px;height:16px"><div><span class="s oc" style="transform:scaleX(0.9002)">300,00</span></div></div>
<div class="t c" style="left:818px;top:193px;width:57px;height:16px"><div><span class="s oc" style="transform:scaleX(0.9002)">337,50</span></div></div>
<div class="t l i" style="left:330px;top:209px;width:138px;height:17px"><div><span class="s ol" style="transform:scaleX(0.8592)">хлеб пшеничный</span></div></div>
<div class="t c" style="left:469px;top:210px;width:47px;height:16px"><div><span class="s oc" style="transform:scaleX(0.9002)">453,00</span></div></div>
<div class="t c" style="left:517px;top:210px;width:62px;height:16px"><div><span class="s oc" style="transform:scaleX(0.9002)">13</span></div></div>
<div class="t c" style="left:580px;top:210px;width:62px;height:16px"><div><span class="s oc" style="transform:scaleX(0.9002)">15</span></div></div>
<div class="t c" style="left:643px;top:210px;width:62px;height:16px"><div><span class="s oc" style="transform:scaleX(0.9002)">17</span></div></div>
<div class="t c" style="left:706px;top:210px;width:53px;height:16px"><div><span class="s oc" style="transform:scaleX(0.9002)">5,89</span></div></div>
<div class="t c" style="left:760px;top:210px;width:57px;height:16px"><div><span class="s oc" style="transform:scaleX(0.9002)">6,80</span></div></div>
<div class="t c" style="left:818px;top:210px;width:57px;height:16px"><div><span class="s oc" style="transform:scaleX(0.9002)">7,70</span></div></div>
<div class="t l i" style="left:330px;top:227px;width:138px;height:16px"><div><span class="s ol" style="transform:scaleX(0.8968)">молоко</span></div></div>
<div class="t c" style="left:469px;top:227px;width:47px;height:16px"><div><span class="s oc" style="transform:scaleX(0.9002)">567,00</span></div></div>
<div class="t c" style="left:517px;top:227px;width:62px;height:16px"><div><span class="s oc" style="transform:scaleX(0.9002)">17</span></div></div>
<div class="t c" style="left:580px;top:227px;width:62px;height:16px"><div><span class="s oc" style="transform:scaleX(0.9002)">20</span></div></div>
<div class="t c" style="left:643px;top:227px;width:62px;height:16px"><div><span class="s oc" style="transform:scaleX(0.9002)">23</span></div></div>
<div class="t c" style="left:706px;top:227px;width:53px;height:16px"><div><span class="s oc" style="transform:scaleX(0.9002)">9,64</span></div></div>
<div class="t c" style="left:760px;top:227px;width:57px;height:16px"><div><span class="s oc" style="transform:scaleX(0.9002)">11,34</span></div></div>
<div class="t c" style="left:818px;top:227px;width:57px;height:16px"><div><span class="s oc" style="transform:scaleX(0.9002)">13,04</span></div></div>
<div class="t l i" style="left:330px;top:244px;width:138px;height:16px"><div><span class="s ol" style="transform:scaleX(0.8845)">сухари</span></div></div>
<div class="t c" style="left:469px;top:244px;width:47px;height:16px"><div><span class="s oc" style="transform:scaleX(0.9002)">660,00</span></div></div>
<div class="t c" style="left:517px;top:244px;width:62px;height:16px"><div><span class="s oc" style="transform:scaleX(0.9002)">7</span></div></div>
<div class="t c" style="left:580px;top:244px;width:62px;height:16px"><div><span class="s oc" style="transform:scaleX(0.9002)">8</span></div></div>
<div class="t c" style="left:643px;top:244px;width:62px;height:16px"><div><span class="s oc" style="transform:scaleX(0.9002)">9</span></div></div>
<div class="t c" style="left:706px;top:244px;width:53px;height:16px"><div><span class="s oc" style="transform:scaleX(0.9002)">4,62</span></div></div>
<div class="t c" style="left:760px;top:244px;width:57px;height:16px"><div><span class="s oc" style="transform:scaleX(0.9002)">5,28</span></div></div>
<div class="t c" style="left:818px;top:244px;width:57px;height:16px"><div><span class="s oc" style="transform:scaleX(0.9002)">5,94</span></div></div>
<div class="t l i" style="left:330px;top:260px;width:138px;height:17px"><div><span class="s ol" style="transform:scaleX(0.8796)">масло растительное</span></div></div>
<div class="t c" style="left:469px;top:260px;width:47px;height:17px"><div><span class="s oc" style="transform:scaleX(0.9002)">728,00</span></div></div>
<div class="t c" style="left:517px;top:261px;width:62px;height:16px"><div><span class="s oc" style="transform:scaleX(0.9002)">5</span></div></div>
<div class="t c" style="left:580px;top:261px;width:62px;height:16px"><div><span class="s oc" style="transform:scaleX(0.9002)">6</span></div></div>
<div class="t c" style="left:643px;top:261px;width:62px;height:16px"><div><span class="s oc" style="transform:scaleX(0.9002)">7</span></div></div>
<div class="t c" style="left:706px;top:261px;width:53px;height:16px"><div><span class="s oc" style="transform:scaleX(0.9002)">3,64</span></div></div>
<div class="t c" style="left:760px;top:261px;width:57px;height:16px"><div><span class="s oc" style="transform:scaleX(0.9002)">4,37</span></div></div>
<div class="t c" style="left:818px;top:261px;width:57px;height:16px"><div><span class="s oc" style="transform:scaleX(0.9002)">5,10</span></div></div>
<div class="t l" style="left:3px;top:278px;width:140px;height:67px"><div><span class="s ol" style="transform:scaleX(0.9346)">Соус</span></div></div>
<div class="t c" style="left:144px;top:278px;width:55px;height:67px"><div><span class="s oc" style="transform:scaleX(0.9002)">15</span></div></div>
<div class="t c" style="left:200px;top:278px;width:62px;height:67px"><div><span class="s oc" style="transform:scaleX(0.9002)">15</span></div></div>
<div class="t c" style="left:263px;top:278px;width:66px;height:67px"><div><span class="s oc" style="transform:scaleX(0.9002)">15</span></div></div>
<div class="t l i" style="left:330px;top:278px;width:138px;height:16px"><div><span class="s ol" style="transform:scaleX(0.8753)">масло сливочное</span></div></div>
<div class="t c" style="left:469px;top:278px;width:47px;height:16px"><div><span class="s oc" style="transform:scaleX(0.9002)">4255,00</span></div></div>
<div class="t c" style="left:517px;top:278px;width:62px;height:16px"><div><span class="s oc" style="transform:scaleX(0.9002)">5</span></div></div>
<div class="t c" style="left:580px;top:278px;width:62px;height:16px"><div><span class="s oc" style="transform:scaleX(0.9002)">7</span></div></div>
<div class="t c" style="left:643px;top:278px;width:62px;height:16px"><div><span class="s oc" style="transform:scaleX(0.9002)">8</span></div></div>
<div class="t c" style="left:706px;top:278px;width:53px;height:16px"><div><span class="s oc" style="transform:scaleX(0.9002)">21,28</span></div></div>
<div class="t c" style="left:760px;top:278px;width:57px;height:16px"><div><span class="s oc" style="transform:scaleX(0.9002)">29,79</span></div></div>
<div class="t c" style="left:818px;top:278px;width:57px;height:16px"><div><span class="s oc" style="transform:scaleX(0.9002)">34,04</span></div></div>
<div class="t l i" style="left:330px;top:295px;width:138px;height:16px"><div><span class="s ol" style="transform:scaleX(0.8527)">сметана</span></div></div>
<div class="t c" style="left:469px;top:295px;width:47px;height:16px"><div><span class="s oc" style="transform:scaleX(0.9002)">2555,00</span></div></div>
<div class="t c" style="left:517px;top:295px;width:62px;height:16px"><div><span class="s oc" style="transform:scaleX(0.9002)">12</span></div></div>
<div class="t c" style="left:580px;top:295px;width:62px;height:16px"><div><span class="s oc" style="transform:scaleX(0.9002)">12</span></div></div>
<div class="t c" style="left:643px;top:295px;width:62px;height:16px"><div><span class="s oc" style="transform:scaleX(0.9002)">12</span></div></div>
<div class="t c" style="left:706px;top:295px;width:53px;height:16px"><div><span class="s oc" style="transform:scaleX(0.9002)">30,66</span></div></div>
<div class="t c" style="left:760px;top:295px;width:57px;height:16px"><div><span class="s oc" style="transform:scaleX(0.9002)">30,66</span></div></div>
<div class="t c" style="left:818px;top:295px;width:57px;height:16px"><div><span class="s oc" style="transform:scaleX(0.9002)">30,66</span></div></div>
<div class="t l i" style="left:330px;top:312px;width:138px;height:16px"><div><span class="s ol" style="transform:scaleX(0.8826)">мука пшеничная</span></div></div>
<div class="t c" style="left:469px;top:312px;width:47px;height:16px"><div><span class="s oc" style="transform:scaleX(0.9002)">471,00</span></div></div>
<div class="t c" style="left:517px;top:312px;width:62px;height:16px"><div><span class="s oc" style="transform:scaleX(0.9002)">5</span></div></div>
<div class="t c" style="left:580px;top:312px;width:62px;height:16px"><div><span class="s oc" style="transform:scaleX(0.9002)">5</span></div></div>
<div class="t c" style="left:643px;top:312px;width:62px;height:16px"><div><span class="s oc" style="transform:scaleX(0.9002)">5</span></div></div>
<div class="t c" style="left:706px;top:312px;width:53px;height:16px"><div><span class="s oc" style="transform:scaleX(0.9002)">2,36</span></div></div>
<div class="t c" style="left:760px;top:312px;width:57px;height:16px"><div><span class="s oc" style="transform:scaleX(0.9002)">2,36</span></div></div>
<div class="t c" style="left:818px;top:312px;width:57px;height:16px"><div><span class="s oc" style="transform:scaleX(0.9002)">2,36</span></div></div>
<div class="t l i" style="left:330px;top:329px;width:138px;height:16px"><div><span class="s ol" style="transform:scaleX(0.8665)">томатная паста</span></div></div>
<div class="t c" style="left:469px;top:329px;width:47px;height:16px"><div><span class="s oc" style="transform:scaleX(0.9002)">1450,00</span></div></div>
<div class="t c" style="left:517px;top:329px;width:62px;height:16px"><div><span class="s oc" style="transform:scaleX(0.9002)">5</span></div></div>
<div class="t c" style="left:580px;top:329px;width:62px;height:16px"><div><span class="s oc" style="transform:scaleX(0.9002)">5</span></div></div>
<div class="t c" style="left:643px;top:329px;width:62px;height:16px"><div><span class="s oc" style="transform:scaleX(0.9002)">5</span></div></div>
<div class="t c" style="left:706px;top:329px;width:53px;height:16px"><div><span class="s oc" style="transform:scaleX(0.9002)">7,25</span></div></div>
<div class="t c" style="left:760px;top:329px;width:57px;height:16px"><div><span class="s oc" style="transform:scaleX(0.9002)">7,25</span></div></div>
<div class="t c" style="left:818px;top:329px;width:57px;height:16px"><div><span class="s oc" style="transform:scaleX(0.9002)">7,25</span></div></div>
<div class="t l" style="left:3px;top:346px;width:140px;height:50px"><div><span class="s ol" style="transform:scaleX(0.9010)">Гарнир:  картофельное</span><br><span class="s ol" style="transform:scaleX(0.8672)">пюре</span></div></div>
<div class="t c" style="left:144px;top:345px;width:55px;height:51px"><div><span class="s oc" style="transform:scaleX(0.9002)">100</span></div></div>
<div class="t c" style="left:200px;top:345px;width:62px;height:51px"><div><span class="s oc" style="transform:scaleX(0.9002)">130</span></div></div>
<div class="t c" style="left:263px;top:345px;width:66px;height:51px"><div><span class="s oc" style="transform:scaleX(0.9002)">150</span></div></div>
<div class="t l i" style="left:330px;top:345px;width:138px;height:17px"><div><span class="s ol" style="transform:scaleX(0.9117)">картофель</span></div></div>
<div class="t c" style="left:469px;top:345px;width:47px;height:17px"><div><span class="s oc" style="transform:scaleX(0.9002)">177,00</span></div></div>
<div class="t c" style="left:517px;top:345px;width:62px;height:17px"><div><span class="s oc" style="transform:scaleX(0.9002)">114</span></div></div>
<div class="t c" style="left:580px;top:345px;width:62px;height:17px"><div><span class="s oc" style="transform:scaleX(0.9002)">148</span></div></div>
<div class="t c" style="left:643px;top:345px;width:62px;height:17px"><div><span class="s oc" style="transform:scaleX(0.9002)">171</span></div></div>
<div class="t c" style="left:706px;top:346px;width:53px;height:16px"><div><span class="s oc" style="transform:scaleX(0.9002)">20,18</span></div></div>
<div class="t c" style="left:760px;top:346px;width:57px;height:16px"><div><span class="s oc" style="transform:scaleX(0.9002)">26,20</span></div></div>
<div class="t c" style="left:818px;top:346px;width:57px;height:16px"><div><span class="s oc" style="transform:scaleX(0.9002)">30,27</span></div></div>
<div class="t l i" style="left:330px;top:362px;width:138px;height:17px"><div><span class="s ol" style="transform:scaleX(0.8968)">молоко</span></div></div>
<div class="t c" style="left:469px;top:362px;width:47px;height:17px"><div><span class="s oc" style="transform:scaleX(0.9002)">567,00</span></div></div>
<div class="t c" style="left:517px;top:362px;width:62px;height:17px"><div><span class="s oc" style="transform:scaleX(0.9002)">15</span></div></div>
<div class="t c" style="left:580px;top:362px;width:62px;height:17px"><div><span class="s oc" style="transform:scaleX(0.9002)">20</span></div></div>
<div class="t c" style="left:643px;top:362px;width:62px;height:17px"><div><span class="s oc" style="transform:scaleX(0.9002)">23</span></div></div>
<div class="t c" style="left:706px;top:363px;width:53px;height:16px"><div><span class="s oc" style="transform:scaleX(0.9002)">8,51</span></div></div>
<div class="t c" style="left:760px;top:363px;width:57px;height:16px"><div><span class="s oc" style="transform:scaleX(0.9002)">11,34</span></div></div>
<div class="t c" style="left:818px;top:363px;width:57px;height:16px"><div><span class="s oc" style="transform:scaleX(0.9002)">13,04</span></div></div>
<div class="t l i" style="left:330px;top:379px;width:138px;height:17px"><div><span class="s ol" style="transform:scaleX(0.8753)">масло сливочное</span></div></div>
<div class="t c" style="left:469px;top:379px;width:47px;height:17px"><div><span class="s oc" style="transform:scaleX(0.9002)">4255,00</span></div></div>
<div class="t c" style="left:517px;top:379px;width:62px;height:17px"><div><span class="s oc" style="transform:scaleX(0.9002)">8</span></div></div>
<div class="t c" style="left:580px;top:379px;width:62px;height:17px"><div><span class="s oc" style="transform:scaleX(0.9002)">10</span></div></div>
<div class="t c" style="left:643px;top:379px;width:62px;height:17px"><div><span class="s oc" style="transform:scaleX(0.9002)">12</span></div></div>
<div class="t c" style="left:706px;top:380px;width:53px;height:16px"><div><span class="s oc" style="transform:scaleX(0.9002)">34,04</span></div></div>
<div class="t c" style="left:760px;top:380px;width:57px;height:16px"><div><span class="s oc" style="transform:scaleX(0.9002)">42,55</span></div></div>
<div class="t c" style="left:818px;top:380px;width:57px;height:16px"><div><span class="s oc" style="transform:scaleX(0.9002)">51,06</span></div></div>
<div class="t l" style="left:3px;top:397px;width:140px;height:50px"><div><span class="s ol" style="transform:scaleX(0.8728)">Компот из смеси</span><br><span class="s ol" style="transform:scaleX(0.9296)">сухофруктов с Vit C</span></div></div>
<div class="t c" style="left:144px;top:397px;width:55px;height:50px"><div><span class="s oc" style="transform:scaleX(0.9002)">200</span></div></div>
<div class="t c" style="left:200px;top:397px;width:62px;height:50px"><div><span class="s oc" style="transform:scaleX(0.9002)">200</span></div></div>
<div class="t c" style="left:263px;top:397px;width:66px;height:50px"><div><span class="s oc" style="transform:scaleX(0.9002)">200</span></div></div>
<div class="t l i" style="left:330px;top:396px;width:138px;height:17px"><div><span class="s ol" style="transform:scaleX(0.9380)">сухофрукты</span></div></div>
<div class="t c" style="left:469px;top:396px;width:47px;height:17px"><div><span class="s oc" style="transform:scaleX(0.9002)">1000,00</span></div></div>
<div class="t c" style="left:517px;top:396px;width:62px;height:17px"><div><span class="s oc" style="transform:scaleX(0.9002)">20</span></div></div>
<div class="t c" style="left:580px;top:396px;width:62px;height:17px"><div><span class="s oc" style="transform:scaleX(0.9002)">20</span></div></div>
<div class="t c" style="left:643px;top:396px;width:62px;height:17px"><div><span class="s oc" style="transform:scaleX(0.9002)">20</span></div></div>
<div class="t c" style="left:706px;top:397px;width:53px;height:16px"><div><span class="s oc" style="transform:scaleX(0.9002)">20,00</span></div></div>
<div class="t c" style="left:760px;top:397px;width:57px;height:16px"><div><span class="s oc" style="transform:scaleX(0.9002)">20,00</span></div></div>
<div class="t c" style="left:818px;top:397px;width:57px;height:16px"><div><span class="s oc" style="transform:scaleX(0.9002)">20,00</span></div></div>
<div class="t l i" style="left:330px;top:414px;width:138px;height:16px"><div><span class="s ol" style="transform:scaleX(0.8505)">сахар</span></div></div>
<div class="t c" style="left:469px;top:414px;width:47px;height:16px"><div><span class="s oc" style="transform:scaleX(0.9002)">424,00</span></div></div>
<div class="t c" style="left:517px;top:414px;width:62px;height:16px"><div><span class="s oc" style="transform:scaleX(0.9002)">8</span></div></div>
<div class="t c" style="left:580px;top:414px;width:62px;height:16px"><div><span class="s oc" style="transform:scaleX(0.9002)">8</span></div></div>
<div class="t c" style="left:643px;top:414px;width:62px;height:16px"><div><span class="s oc" style="transform:scaleX(0.9002)">8</span></div></div>
<div class="t c" style="left:706px;top:414px;width:53px;height:16px"><div><span class="s oc" style="transform:scaleX(0.9002)">3,39</span></div></div>
<div class="t c" style="left:760px;top:414px;width:57px;height:16px"><div><span class="s oc" style="transform:scaleX(0.9002)">3,39</span></div></div>
<div class="t c" style="left:818px;top:414px;width:57px;height:16px"><div><span class="s oc" style="transform:scaleX(0.9002)">3,39</span></div></div>
<div class="t l i" style="left:330px;top:431px;width:138px;height:16px"><div><span class="s ol" style="transform:scaleX(0.9484)">Vit C</span></div></div>
<div class="t c" style="left:469px;top:431px;width:47px;height:16px"><div><span class="s oc" style="transform:scaleX(0.9002)">8500,00</span></div></div>
<div class="t c" style="left:517px;top:431px;width:62px;height:16px"><div><span class="s oc" style="transform:scaleX(0.9002)">0,07</span></div></div>
<div class="t c" style="left:580px;top:431px;width:62px;height:16px"><div><span class="s oc" style="transform:scaleX(0.9002)">0,07</span></div></div>
<div class="t c" style="left:643px;top:431px;width:62px;height:16px"><div><span class="s oc" style="transform:scaleX(0.9002)">0,07</span></div></div>
<div class="t c" style="left:706px;top:431px;width:53px;height:16px"><div><span class="s oc" style="transform:scaleX(0.9002)">0,60</span></div></div>
<div class="t c" style="left:760px;top:431px;width:57px;height:16px"><div><span class="s oc" style="transform:scaleX(0.9002)">0,60</span></div></div>
<div class="t c" style="left:818px;top:431px;width:57px;height:16px"><div><span class="s oc" style="transform:scaleX(0.9002)">0,60</span></div></div>
<div class="t l" style="left:3px;top:448px;width:140px;height:16px"><div><span class="s ol" style="transform:scaleX(0.9156)">Сузбеше *(Йогурт)</span></div></div>
<div class="t c" style="left:144px;top:448px;width:55px;height:16px"><div><span class="s oc" style="transform:scaleX(0.9002)">100</span></div></div>
<div class="t c" style="left:200px;top:448px;width:62px;height:16px"><div><span class="s oc" style="transform:scaleX(0.9002)">100</span></div></div>
<div class="t c" style="left:263px;top:448px;width:66px;height:16px"><div><span class="s oc" style="transform:scaleX(0.9002)">100</span></div></div>
<div class="t l i" style="left:330px;top:448px;width:138px;height:16px"><div><span class="s ol" style="transform:scaleX(0.8917)">сузбеше</span></div></div>
<div class="t c" style="left:469px;top:448px;width:47px;height:16px"><div><span class="s oc" style="transform:scaleX(0.9002)">1540,00</span></div></div>
<div class="t c" style="left:517px;top:448px;width:62px;height:16px"><div><span class="s oc" style="transform:scaleX(0.9002)">100</span></div></div>
<div class="t c" style="left:580px;top:448px;width:62px;height:16px"><div><span class="s oc" style="transform:scaleX(0.9002)">100</span></div></div>
<div class="t c" style="left:643px;top:448px;width:62px;height:16px"><div><span class="s oc" style="transform:scaleX(0.9002)">100</span></div></div>
<div class="t c" style="left:706px;top:448px;width:53px;height:16px"><div><span class="s oc" style="transform:scaleX(0.9002)">154,00</span></div></div>
<div class="t c" style="left:760px;top:448px;width:57px;height:16px"><div><span class="s oc" style="transform:scaleX(0.9002)">154,00</span></div></div>
<div class="t c" style="left:818px;top:448px;width:57px;height:16px"><div><span class="s oc" style="transform:scaleX(0.9002)">154,00</span></div></div>
<div class="t l" style="left:3px;top:465px;width:140px;height:16px"><div><span class="s ol" style="transform:scaleX(0.8740)">Хлеб ржано-пшеничный</span></div></div>
<div class="t c" style="left:144px;top:465px;width:55px;height:16px"><div><span class="s oc" style="transform:scaleX(0.9002)">20</span></div></div>
<div class="t c" style="left:200px;top:465px;width:62px;height:16px"><div><span class="s oc" style="transform:scaleX(0.9002)">35</span></div></div>
<div class="t c" style="left:263px;top:465px;width:66px;height:16px"><div><span class="s oc" style="transform:scaleX(0.9002)">40</span></div></div>
<div class="t l i" style="left:330px;top:465px;width:138px;height:16px"><div><span class="s ol" style="transform:scaleX(0.8665)">хлеб ржано-пшеничный</span></div></div>
<div class="t c" style="left:469px;top:465px;width:47px;height:16px"><div><span class="s oc" style="transform:scaleX(0.9002)">500,00</span></div></div>
<div class="t c" style="left:517px;top:465px;width:62px;height:16px"><div><span class="s oc" style="transform:scaleX(0.9002)">20</span></div></div>
<div class="t c" style="left:580px;top:465px;width:62px;height:16px"><div><span class="s oc" style="transform:scaleX(0.9002)">35</span></div></div>
<div class="t c" style="left:643px;top:465px;width:62px;height:16px"><div><span class="s oc" style="transform:scaleX(0.9002)">40</span></div></div>
<div class="t c" style="left:706px;top:465px;width:53px;height:16px"><div><span class="s oc" style="transform:scaleX(0.9002)">10,00</span></div></div>
<div class="t c" style="left:760px;top:465px;width:57px;height:16px"><div><span class="s oc" style="transform:scaleX(0.9002)">17,50</span></div></div>
<div class="t c" style="left:818px;top:465px;width:57px;height:16px"><div><span class="s oc" style="transform:scaleX(0.9002)">20,00</span></div></div>
<div class="t c" style="left:876px;top:125px;width:74px;height:67px"><div><span class="s oc" style="transform:scaleX(0.9002)">59,91</span></div></div>
<div class="t c" style="left:951px;top:125px;width:74px;height:67px"><div><span class="s oc" style="transform:scaleX(0.9002)">80,15</span></div></div>
<div class="t c" style="left:1026px;top:125px;width:74px;height:67px"><div><span class="s oc" style="transform:scaleX(0.9002)">100,22</span></div></div>
<div class="t c" style="left:876px;top:193px;width:74px;height:152px"><div><span class="s oc" style="transform:scaleX(0.9002)">347,83</span></div></div>
<div class="t c" style="left:951px;top:193px;width:74px;height:152px"><div><span class="s oc" style="transform:scaleX(0.9002)">397,83</span></div></div>
<div class="t c" style="left:1026px;top:193px;width:74px;height:152px"><div><span class="s oc" style="transform:scaleX(0.9002)">443,58</span></div></div>
<div class="t c" style="left:876px;top:346px;width:74px;height:50px"><div><span class="s oc" style="transform:scaleX(0.9002)">62,72</span></div></div>
<div class="t c" style="left:951px;top:346px;width:74px;height:50px"><div><span class="s oc" style="transform:scaleX(0.9002)">80,09</span></div></div>
<div class="t c" style="left:1026px;top:346px;width:74px;height:50px"><div><span class="s oc" style="transform:scaleX(0.9002)">94,37</span></div></div>
<div class="t c" style="left:876px;top:397px;width:74px;height:50px"><div><span class="s oc" style="transform:scaleX(0.9002)">23,99</span></div></div>
<div class="t c" style="left:951px;top:397px;width:74px;height:50px"><div><span class="s oc" style="transform:scaleX(0.9002)">23,99</span></div></div>
<div class="t c" style="left:1026px;top:397px;width:74px;height:50px"><div><span class="s oc" style="transform:scaleX(0.9002)">23,99</span></div></div>
<div class="t c" style="left:876px;top:448px;width:74px;height:16px"><div><span class="s oc" style="transform:scaleX(0.9002)">154,00</span></div></div>
<div class="t c" style="left:951px;top:448px;width:74px;height:16px"><div><span class="s oc" style="transform:scaleX(0.9002)">154,00</span></div></div>
<div class="t c" style="left:1026px;top:448px;width:74px;height:16px"><div><span class="s oc" style="transform:scaleX(0.9002)">154,00</span></div></div>
<div class="t c" style="left:876px;top:465px;width:74px;height:16px"><div><span class="s oc" style="transform:scaleX(0.9002)">10,00</span></div></div>
<div class="t c" style="left:951px;top:465px;width:74px;height:16px"><div><span class="s oc" style="transform:scaleX(0.9002)">17,50</span></div></div>
<div class="t c" style="left:1026px;top:465px;width:74px;height:16px"><div><span class="s oc" style="transform:scaleX(0.9002)">20,00</span></div></div>
<div class="t l b" style="left:3px;top:482px;width:140px;height:16px"><div><span class="s ol" style="transform:scaleX(0.8990)">Калорийность, ккал</span></div></div>
<div class="t l bi" style="left:3px;top:499px;width:756px;height:16px"><div><span class="s ol" style="transform:scaleX(0.9006)">Итого цена рациона</span></div></div>
<div class="t rt b" style="left:876px;top:499px;width:74px;height:16px"><div><span class="s or" style="transform:scaleX(0.9002)">658,45</span></div></div>
<div class="t rt b" style="left:951px;top:499px;width:74px;height:16px"><div><span class="s or" style="transform:scaleX(0.9002)">753,56</span></div></div>
<div class="t rt b" style="left:1026px;top:499px;width:74px;height:16px"><div><span class="s or" style="transform:scaleX(0.9002)">836,15</span></div></div>
<div class="t l bi" style="left:3px;top:516px;width:756px;height:16px"><div><span class="s ol" style="transform:scaleX(0.8955)">Итого цена рациона с учетом 12% НДС</span></div></div>
<div class="t rt b" style="left:876px;top:516px;width:74px;height:16px"><div><span class="s or" style="transform:scaleX(0.9002)">737,46</span></div></div>
<div class="t rt b" style="left:951px;top:516px;width:74px;height:16px"><div><span class="s or" style="transform:scaleX(0.9002)">843,98</span></div></div>
<div class="t rt b" style="left:1026px;top:516px;width:74px;height:16px"><div><span class="s or" style="transform:scaleX(0.9002)">936,49</span></div></div>
<div class="t l b" style="left:3px;top:5px;width:400px;height:16px"><div><span class="s ol" style="transform:scaleX(0.9257)">1 неделя 2-й день</span></div></div>
</body></html>
